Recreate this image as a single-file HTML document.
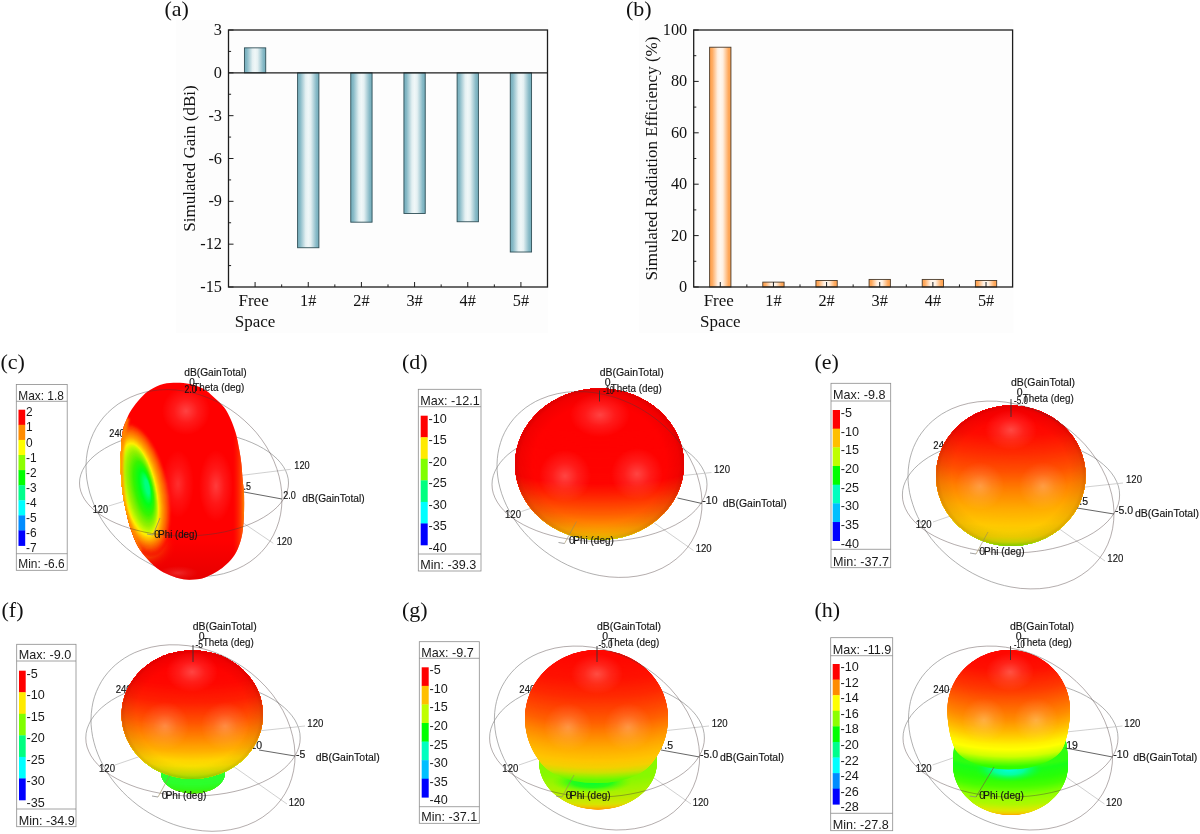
<!DOCTYPE html>
<html lang="en"><head><meta charset="utf-8"><title>Simulated gain, radiation efficiency and 3D radiation patterns</title>
<style>html,body{margin:0;padding:0;background:#fff}body{width:1200px;height:834px;overflow:hidden}svg{display:block}</style>
</head><body>
<svg width="1200" height="834" viewBox="0 0 1200 834">
<defs>
<linearGradient id="gTeal" x1="0" x2="1" y1="0" y2="0"><stop offset="0" stop-color="#74adbb"/><stop offset="0.12" stop-color="#86b9c6"/><stop offset="0.38" stop-color="#e4f0f2"/><stop offset="0.5" stop-color="#f0f7f8"/><stop offset="0.62" stop-color="#e4f0f2"/><stop offset="0.88" stop-color="#86b9c6"/><stop offset="1" stop-color="#74adbb"/></linearGradient>
<linearGradient id="gOr" x1="0" x2="1" y1="0" y2="0"><stop offset="0" stop-color="#ffa04c"/><stop offset="0.12" stop-color="#ffaa5e"/><stop offset="0.38" stop-color="#fff0e2"/><stop offset="0.5" stop-color="#fff8f0"/><stop offset="0.62" stop-color="#fff0e2"/><stop offset="0.88" stop-color="#ffaa5e"/><stop offset="1" stop-color="#ffa04c"/></linearGradient>
<radialGradient id="rim"><stop offset="0.78" stop-color="#400" stop-opacity="0"/><stop offset="0.93" stop-color="#400" stop-opacity="0.07"/><stop offset="1" stop-color="#400" stop-opacity="0.2"/></radialGradient><radialGradient id="hl"><stop offset="0" stop-color="#fff" stop-opacity="0.26"/><stop offset="0.5" stop-color="#fff" stop-opacity="0.1"/><stop offset="1" stop-color="#fff" stop-opacity="0"/></radialGradient><clipPath id="cd"><ellipse cx="599.5" cy="464.3" rx="84.5" ry="75.7"/></clipPath><clipPath id="ce"><ellipse cx="1010.8" cy="475.8" rx="74.8" ry="70.2"/></clipPath><clipPath id="cf"><ellipse cx="192.3" cy="714.7" rx="70.7" ry="64.3"/></clipPath><clipPath id="cfl"><ellipse cx="193" cy="773" rx="32" ry="20.4"/></clipPath><clipPath id="cg"><ellipse cx="596.5" cy="718" rx="71.5" ry="68"/><ellipse cx="598" cy="762" rx="59" ry="47.5"/></clipPath><radialGradient id="gb"><stop offset="0" stop-color="#00ff38"/><stop offset="0.5" stop-color="#10ff20" stop-opacity="0.85"/><stop offset="1" stop-color="#58ff00" stop-opacity="0"/></radialGradient><clipPath id="cgu"><ellipse cx="596.5" cy="754.2" rx="57.8" ry="28.9"/><ellipse cx="596.5" cy="753.2" rx="58.6" ry="29.3"/><ellipse cx="596.5" cy="752.2" rx="59.4" ry="29.7"/><ellipse cx="596.5" cy="751.2" rx="60.2" ry="30.1"/><ellipse cx="596.5" cy="750.2" rx="60.9" ry="30.5"/><ellipse cx="596.5" cy="749.2" rx="61.6" ry="30.8"/><ellipse cx="596.5" cy="748.2" rx="62.3" ry="31.1"/><ellipse cx="596.5" cy="747.2" rx="62.9" ry="31.5"/><ellipse cx="596.5" cy="746.2" rx="63.5" ry="31.8"/><ellipse cx="596.5" cy="745.2" rx="64.1" ry="32.1"/><ellipse cx="596.5" cy="744.2" rx="64.7" ry="32.3"/><ellipse cx="596.5" cy="743.2" rx="65.2" ry="32.6"/><ellipse cx="596.5" cy="742.2" rx="65.7" ry="32.9"/><ellipse cx="596.5" cy="741.2" rx="66.2" ry="33.1"/><ellipse cx="596.5" cy="740.2" rx="66.7" ry="33.3"/><ellipse cx="596.5" cy="739.2" rx="67.1" ry="33.6"/><ellipse cx="596.5" cy="738.2" rx="67.5" ry="33.8"/><ellipse cx="596.5" cy="737.2" rx="67.9" ry="34"/><ellipse cx="596.5" cy="736.2" rx="68.3" ry="34.1"/><ellipse cx="596.5" cy="735.2" rx="68.6" ry="34.3"/><ellipse cx="596.5" cy="734.2" rx="69" ry="34.5"/><ellipse cx="596.5" cy="733.2" rx="69.3" ry="34.6"/><ellipse cx="596.5" cy="732.2" rx="69.6" ry="34.8"/><ellipse cx="596.5" cy="731.2" rx="69.8" ry="34.9"/><ellipse cx="596.5" cy="730.2" rx="70.1" ry="35"/><ellipse cx="596.5" cy="729.2" rx="70.3" ry="35.2"/><ellipse cx="596.5" cy="728.2" rx="70.5" ry="35.3"/><ellipse cx="596.5" cy="727.2" rx="70.7" ry="35.3"/><ellipse cx="596.5" cy="726.2" rx="70.9" ry="35.4"/><ellipse cx="596.5" cy="725.2" rx="71" ry="35.5"/><ellipse cx="596.5" cy="724.2" rx="71.1" ry="35.6"/><ellipse cx="596.5" cy="723.2" rx="71.2" ry="35.6"/><ellipse cx="596.5" cy="722.2" rx="71.3" ry="35.7"/><ellipse cx="596.5" cy="721.2" rx="71.4" ry="35.7"/><ellipse cx="596.5" cy="720.2" rx="71.5" ry="35.7"/><ellipse cx="596.5" cy="719.2" rx="71.5" ry="35.7"/><ellipse cx="596.5" cy="718.2" rx="71.5" ry="35.7"/><ellipse cx="596.5" cy="717.2" rx="71.5" ry="35.7"/><ellipse cx="596.5" cy="716.2" rx="71.5" ry="35.7"/><ellipse cx="596.5" cy="715.2" rx="71.4" ry="35.7"/><ellipse cx="596.5" cy="714.2" rx="71.3" ry="35.7"/><ellipse cx="596.5" cy="713.2" rx="71.3" ry="35.6"/><ellipse cx="596.5" cy="712.2" rx="71.1" ry="35.6"/><ellipse cx="596.5" cy="711.2" rx="71" ry="35.5"/><ellipse cx="596.5" cy="710.2" rx="70.8" ry="35.4"/><ellipse cx="596.5" cy="709.2" rx="70.7" ry="35.3"/><ellipse cx="596.5" cy="708.2" rx="70.5" ry="35.2"/><ellipse cx="596.5" cy="707.2" rx="70.2" ry="35.1"/><ellipse cx="596.5" cy="706.2" rx="70" ry="35"/><ellipse cx="596.5" cy="705.2" rx="69.7" ry="34.9"/><ellipse cx="596.5" cy="704.2" rx="69.4" ry="34.7"/><ellipse cx="596.5" cy="703.2" rx="69.1" ry="34.6"/><ellipse cx="596.5" cy="702.2" rx="68.8" ry="34.4"/><ellipse cx="596.5" cy="701.2" rx="68.4" ry="34.2"/><ellipse cx="596.5" cy="700.2" rx="68" ry="34"/><ellipse cx="596.5" cy="699.2" rx="67.6" ry="33.8"/><ellipse cx="596.5" cy="698.2" rx="67.2" ry="33.6"/><ellipse cx="596.5" cy="697.2" rx="66.7" ry="33.4"/><ellipse cx="596.5" cy="696.2" rx="66.2" ry="33.1"/><ellipse cx="596.5" cy="695.2" rx="65.7" ry="32.8"/><ellipse cx="596.5" cy="694.2" rx="65.2" ry="32.6"/><ellipse cx="596.5" cy="693.2" rx="64.6" ry="32.3"/><ellipse cx="596.5" cy="692.2" rx="64" ry="32"/><ellipse cx="596.5" cy="691.2" rx="63.3" ry="31.7"/><ellipse cx="596.5" cy="690.2" rx="62.7" ry="31.3"/><ellipse cx="596.5" cy="689.2" rx="62" ry="31"/><ellipse cx="596.5" cy="688.2" rx="61.3" ry="30.6"/><ellipse cx="596.5" cy="687.2" rx="60.5" ry="30.2"/><ellipse cx="596.5" cy="686.2" rx="59.7" ry="29.9"/><ellipse cx="596.5" cy="685.2" rx="58.9" ry="29.4"/><ellipse cx="596.5" cy="684.2" rx="58" ry="29"/><ellipse cx="596.5" cy="683.2" rx="57.1" ry="28.5"/><ellipse cx="596.5" cy="682.2" rx="56.1" ry="28.1"/><ellipse cx="596.5" cy="681.2" rx="55.1" ry="27.6"/><ellipse cx="596.5" cy="680.2" rx="54.1" ry="27"/><ellipse cx="596.5" cy="679.2" rx="53" ry="26.5"/><ellipse cx="596.5" cy="678.2" rx="51.8" ry="25.9"/><ellipse cx="596.5" cy="677.2" rx="50.6" ry="25.3"/><ellipse cx="596.5" cy="676.2" rx="49.4" ry="24.7"/><ellipse cx="596.5" cy="675.2" rx="48" ry="24"/><ellipse cx="596.5" cy="674.2" rx="46.6" ry="23.3"/><ellipse cx="596.5" cy="673.2" rx="45.2" ry="22.6"/><ellipse cx="596.5" cy="672.2" rx="43.6" ry="21.8"/><ellipse cx="596.5" cy="671.2" rx="42" ry="21"/><ellipse cx="596.5" cy="670.2" rx="40.2" ry="20.1"/><ellipse cx="596.5" cy="669.2" rx="38.3" ry="19.2"/><ellipse cx="596.5" cy="668.2" rx="36.3" ry="18.1"/><ellipse cx="596.5" cy="667.2" rx="34.1" ry="17.1"/><ellipse cx="596.5" cy="666.2" rx="31.7" ry="15.9"/><ellipse cx="596.5" cy="665.2" rx="29.1" ry="14.5"/><ellipse cx="596.5" cy="664.2" rx="26.1" ry="13.1"/><ellipse cx="596.5" cy="663.2" rx="22.7" ry="11.4"/><ellipse cx="596.5" cy="662.2" rx="18.6" ry="9.3"/><ellipse cx="596.5" cy="661.2" rx="13.2" ry="6.6"/></clipPath><clipPath id="cgl"><ellipse cx="598" cy="798.2" rx="13.6" ry="6.8"/><ellipse cx="598" cy="797.2" rx="19.1" ry="9.5"/><ellipse cx="598" cy="796.2" rx="23.2" ry="11.6"/><ellipse cx="598" cy="795.2" rx="26.6" ry="13.3"/><ellipse cx="598" cy="794.2" rx="29.5" ry="14.8"/><ellipse cx="598" cy="793.2" rx="32.1" ry="16.1"/><ellipse cx="598" cy="792.2" rx="34.4" ry="17.2"/><ellipse cx="598" cy="791.2" rx="36.6" ry="18.3"/><ellipse cx="598" cy="790.2" rx="38.5" ry="19.2"/><ellipse cx="598" cy="789.2" rx="40.2" ry="20.1"/><ellipse cx="598" cy="788.2" rx="41.9" ry="20.9"/><ellipse cx="598" cy="787.2" rx="43.4" ry="21.7"/><ellipse cx="598" cy="786.2" rx="44.8" ry="22.4"/><ellipse cx="598" cy="785.2" rx="46.1" ry="23.1"/><ellipse cx="598" cy="784.2" rx="47.3" ry="23.7"/><ellipse cx="598" cy="783.2" rx="48.5" ry="24.2"/><ellipse cx="598" cy="782.2" rx="49.5" ry="24.8"/><ellipse cx="598" cy="781.2" rx="50.5" ry="25.3"/><ellipse cx="598" cy="780.2" rx="51.5" ry="25.7"/><ellipse cx="598" cy="779.2" rx="52.3" ry="26.2"/><ellipse cx="598" cy="778.2" rx="53.1" ry="26.6"/><ellipse cx="598" cy="777.2" rx="53.8" ry="26.9"/><ellipse cx="598" cy="776.2" rx="54.5" ry="27.3"/><ellipse cx="598" cy="775.2" rx="55.2" ry="27.6"/><ellipse cx="598" cy="774.2" rx="55.7" ry="27.9"/><ellipse cx="598" cy="773.2" rx="56.3" ry="28.1"/><ellipse cx="598" cy="772.2" rx="56.7" ry="28.4"/><ellipse cx="598" cy="771.2" rx="57.2" ry="28.6"/><ellipse cx="598" cy="770.2" rx="57.5" ry="28.8"/><ellipse cx="598" cy="769.2" rx="57.9" ry="28.9"/><ellipse cx="598" cy="768.2" rx="58.2" ry="29.1"/><ellipse cx="598" cy="767.2" rx="58.4" ry="29.2"/><ellipse cx="598" cy="766.2" rx="58.6" ry="29.3"/><ellipse cx="598" cy="765.2" rx="58.8" ry="29.4"/><ellipse cx="598" cy="764.2" rx="58.9" ry="29.4"/><ellipse cx="598" cy="763.2" rx="59" ry="29.5"/><ellipse cx="598" cy="762.2" rx="59" ry="29.5"/><ellipse cx="598" cy="761.2" rx="59" ry="29.5"/><ellipse cx="598" cy="760.2" rx="58.9" ry="29.5"/><ellipse cx="598" cy="759.2" rx="58.8" ry="29.4"/><ellipse cx="598" cy="758.2" rx="58.7" ry="29.3"/><ellipse cx="598" cy="757.2" rx="58.5" ry="29.3"/><ellipse cx="598" cy="756.2" rx="58.3" ry="29.1"/><ellipse cx="598" cy="755.2" rx="58" ry="29"/></clipPath><clipPath id="ch"><ellipse cx="1008.7" cy="710" rx="61.3" ry="60"/><ellipse cx="1010.5" cy="765" rx="57.5" ry="50"/></clipPath><radialGradient id="cy"><stop offset="0" stop-color="#00ffe8"/><stop offset="0.45" stop-color="#00ffc0" stop-opacity="0.8"/><stop offset="1" stop-color="#00ff40" stop-opacity="0"/></radialGradient><clipPath id="chu"><ellipse cx="1008.7" cy="741.7" rx="55.6" ry="27.8"/><ellipse cx="1008.7" cy="740.7" rx="56" ry="28"/><ellipse cx="1008.7" cy="739.7" rx="56.3" ry="28.2"/><ellipse cx="1008.7" cy="738.7" rx="56.7" ry="28.3"/><ellipse cx="1008.7" cy="737.7" rx="57" ry="28.5"/><ellipse cx="1008.7" cy="736.7" rx="57.3" ry="28.7"/><ellipse cx="1008.7" cy="735.7" rx="57.6" ry="28.8"/><ellipse cx="1008.7" cy="734.7" rx="57.9" ry="29"/><ellipse cx="1008.7" cy="733.7" rx="58.2" ry="29.1"/><ellipse cx="1008.7" cy="732.7" rx="58.5" ry="29.2"/><ellipse cx="1008.7" cy="731.7" rx="58.7" ry="29.4"/><ellipse cx="1008.7" cy="730.7" rx="59" ry="29.5"/><ellipse cx="1008.7" cy="729.7" rx="59.2" ry="29.6"/><ellipse cx="1008.7" cy="728.7" rx="59.4" ry="29.7"/><ellipse cx="1008.7" cy="727.6" rx="59.6" ry="29.8"/><ellipse cx="1008.7" cy="726.6" rx="59.8" ry="29.9"/><ellipse cx="1008.7" cy="725.6" rx="60" ry="30"/><ellipse cx="1008.7" cy="724.6" rx="60.1" ry="30.1"/><ellipse cx="1008.7" cy="723.6" rx="60.3" ry="30.1"/><ellipse cx="1008.7" cy="722.6" rx="60.4" ry="30.2"/><ellipse cx="1008.7" cy="721.6" rx="60.6" ry="30.3"/><ellipse cx="1008.7" cy="720.6" rx="60.7" ry="30.3"/><ellipse cx="1008.7" cy="719.6" rx="60.8" ry="30.4"/><ellipse cx="1008.7" cy="718.6" rx="60.9" ry="30.4"/><ellipse cx="1008.7" cy="717.6" rx="61" ry="30.5"/><ellipse cx="1008.7" cy="716.6" rx="61.1" ry="30.5"/><ellipse cx="1008.7" cy="715.6" rx="61.1" ry="30.6"/><ellipse cx="1008.7" cy="714.6" rx="61.2" ry="30.6"/><ellipse cx="1008.7" cy="713.6" rx="61.2" ry="30.6"/><ellipse cx="1008.7" cy="712.6" rx="61.3" ry="30.6"/><ellipse cx="1008.7" cy="711.6" rx="61.3" ry="30.6"/><ellipse cx="1008.7" cy="710.6" rx="61.3" ry="30.6"/><ellipse cx="1008.7" cy="709.6" rx="61.3" ry="30.6"/><ellipse cx="1008.7" cy="708.6" rx="61.3" ry="30.6"/><ellipse cx="1008.7" cy="707.6" rx="61.2" ry="30.6"/><ellipse cx="1008.7" cy="706.6" rx="61.2" ry="30.6"/><ellipse cx="1008.7" cy="705.6" rx="61.1" ry="30.5"/><ellipse cx="1008.7" cy="704.6" rx="61" ry="30.5"/><ellipse cx="1008.7" cy="703.6" rx="60.8" ry="30.4"/><ellipse cx="1008.7" cy="702.6" rx="60.7" ry="30.3"/><ellipse cx="1008.7" cy="701.6" rx="60.5" ry="30.2"/><ellipse cx="1008.7" cy="700.6" rx="60.3" ry="30.1"/><ellipse cx="1008.7" cy="699.6" rx="60" ry="30"/><ellipse cx="1008.7" cy="698.6" rx="59.8" ry="29.9"/><ellipse cx="1008.7" cy="697.5" rx="59.5" ry="29.7"/><ellipse cx="1008.7" cy="696.5" rx="59.2" ry="29.6"/><ellipse cx="1008.7" cy="695.5" rx="58.8" ry="29.4"/><ellipse cx="1008.7" cy="694.5" rx="58.5" ry="29.2"/><ellipse cx="1008.7" cy="693.5" rx="58.1" ry="29"/><ellipse cx="1008.7" cy="692.5" rx="57.7" ry="28.8"/><ellipse cx="1008.7" cy="691.5" rx="57.2" ry="28.6"/><ellipse cx="1008.7" cy="690.5" rx="56.8" ry="28.4"/><ellipse cx="1008.7" cy="689.5" rx="56.3" ry="28.1"/><ellipse cx="1008.7" cy="688.5" rx="55.7" ry="27.9"/><ellipse cx="1008.7" cy="687.5" rx="55.2" ry="27.6"/><ellipse cx="1008.7" cy="686.5" rx="54.6" ry="27.3"/><ellipse cx="1008.7" cy="685.5" rx="53.9" ry="27"/><ellipse cx="1008.7" cy="684.5" rx="53.3" ry="26.6"/><ellipse cx="1008.7" cy="683.5" rx="52.6" ry="26.3"/><ellipse cx="1008.7" cy="682.5" rx="51.9" ry="25.9"/><ellipse cx="1008.7" cy="681.5" rx="51.1" ry="25.5"/><ellipse cx="1008.7" cy="680.5" rx="50.3" ry="25.1"/><ellipse cx="1008.7" cy="679.5" rx="49.4" ry="24.7"/><ellipse cx="1008.7" cy="678.5" rx="48.5" ry="24.3"/><ellipse cx="1008.7" cy="677.5" rx="47.6" ry="23.8"/><ellipse cx="1008.7" cy="676.5" rx="46.6" ry="23.3"/><ellipse cx="1008.7" cy="675.5" rx="45.5" ry="22.8"/><ellipse cx="1008.7" cy="674.5" rx="44.4" ry="22.2"/><ellipse cx="1008.7" cy="673.5" rx="43.3" ry="21.6"/><ellipse cx="1008.7" cy="672.5" rx="42" ry="21"/><ellipse cx="1008.7" cy="671.5" rx="40.7" ry="20.4"/><ellipse cx="1008.7" cy="670.5" rx="39.4" ry="19.7"/><ellipse cx="1008.7" cy="669.5" rx="37.9" ry="18.9"/><ellipse cx="1008.7" cy="668.5" rx="36.3" ry="18.2"/><ellipse cx="1008.7" cy="667.4" rx="34.6" ry="17.3"/><ellipse cx="1008.7" cy="666.4" rx="32.8" ry="16.4"/><ellipse cx="1008.7" cy="665.4" rx="30.9" ry="15.4"/><ellipse cx="1008.7" cy="664.4" rx="28.7" ry="14.4"/><ellipse cx="1008.7" cy="663.4" rx="26.4" ry="13.2"/><ellipse cx="1008.7" cy="662.4" rx="23.7" ry="11.9"/><ellipse cx="1008.7" cy="661.4" rx="20.6" ry="10.3"/><ellipse cx="1008.7" cy="660.4" rx="16.9" ry="8.5"/><ellipse cx="1008.7" cy="659.4" rx="12" ry="6"/></clipPath><clipPath id="chl"><ellipse cx="1010.5" cy="804.9" rx="12.7" ry="6.3"/><ellipse cx="1010.5" cy="803.9" rx="17.8" ry="8.9"/><ellipse cx="1010.5" cy="802.9" rx="21.6" ry="10.8"/><ellipse cx="1010.5" cy="801.9" rx="24.8" ry="12.4"/><ellipse cx="1010.5" cy="800.9" rx="27.6" ry="13.8"/><ellipse cx="1010.5" cy="799.9" rx="30" ry="15"/><ellipse cx="1010.5" cy="798.9" rx="32.2" ry="16.1"/><ellipse cx="1010.5" cy="797.9" rx="34.2" ry="17.1"/><ellipse cx="1010.5" cy="796.9" rx="36" ry="18"/><ellipse cx="1010.5" cy="795.9" rx="37.7" ry="18.9"/><ellipse cx="1010.5" cy="794.9" rx="39.3" ry="19.6"/><ellipse cx="1010.5" cy="793.9" rx="40.7" ry="20.4"/><ellipse cx="1010.5" cy="792.9" rx="42.1" ry="21"/><ellipse cx="1010.5" cy="791.9" rx="43.4" ry="21.7"/><ellipse cx="1010.5" cy="790.9" rx="44.6" ry="22.3"/><ellipse cx="1010.5" cy="789.9" rx="45.7" ry="22.8"/><ellipse cx="1010.5" cy="788.9" rx="46.7" ry="23.4"/><ellipse cx="1010.5" cy="787.8" rx="47.7" ry="23.8"/><ellipse cx="1010.5" cy="786.8" rx="48.6" ry="24.3"/><ellipse cx="1010.5" cy="785.8" rx="49.5" ry="24.7"/><ellipse cx="1010.5" cy="784.8" rx="50.3" ry="25.1"/><ellipse cx="1010.5" cy="783.8" rx="51" ry="25.5"/><ellipse cx="1010.5" cy="782.8" rx="51.7" ry="25.9"/><ellipse cx="1010.5" cy="781.8" rx="52.4" ry="26.2"/><ellipse cx="1010.5" cy="780.8" rx="53" ry="26.5"/><ellipse cx="1010.5" cy="779.8" rx="53.6" ry="26.8"/><ellipse cx="1010.5" cy="778.8" rx="54.1" ry="27.1"/><ellipse cx="1010.5" cy="777.8" rx="54.6" ry="27.3"/><ellipse cx="1010.5" cy="776.8" rx="55.1" ry="27.5"/><ellipse cx="1010.5" cy="775.8" rx="55.5" ry="27.7"/><ellipse cx="1010.5" cy="774.8" rx="55.8" ry="27.9"/><ellipse cx="1010.5" cy="773.8" rx="56.2" ry="28.1"/><ellipse cx="1010.5" cy="772.8" rx="56.4" ry="28.2"/><ellipse cx="1010.5" cy="771.8" rx="56.7" ry="28.4"/><ellipse cx="1010.5" cy="770.8" rx="56.9" ry="28.5"/><ellipse cx="1010.5" cy="769.8" rx="57.1" ry="28.6"/><ellipse cx="1010.5" cy="768.8" rx="57.3" ry="28.6"/><ellipse cx="1010.5" cy="767.8" rx="57.4" ry="28.7"/><ellipse cx="1010.5" cy="766.8" rx="57.4" ry="28.7"/><ellipse cx="1010.5" cy="765.8" rx="57.5" ry="28.7"/><ellipse cx="1010.5" cy="764.8" rx="57.5" ry="28.7"/><ellipse cx="1010.5" cy="763.8" rx="57.5" ry="28.7"/><ellipse cx="1010.5" cy="762.8" rx="57.5" ry="28.7"/><ellipse cx="1010.5" cy="761.8" rx="57.5" ry="28.7"/><ellipse cx="1010.5" cy="760.8" rx="57.4" ry="28.7"/><ellipse cx="1010.5" cy="759.8" rx="57.4" ry="28.7"/><ellipse cx="1010.5" cy="758.8" rx="57.4" ry="28.7"/><ellipse cx="1010.5" cy="757.7" rx="57.3" ry="28.6"/><ellipse cx="1010.5" cy="756.7" rx="57.2" ry="28.6"/><ellipse cx="1010.5" cy="755.7" rx="57.2" ry="28.6"/><ellipse cx="1010.5" cy="754.7" rx="57.1" ry="28.5"/><ellipse cx="1010.5" cy="753.7" rx="57" ry="28.5"/><ellipse cx="1010.5" cy="752.7" rx="56.9" ry="28.5"/><ellipse cx="1010.5" cy="751.7" rx="56.8" ry="28.4"/><ellipse cx="1010.5" cy="750.7" rx="56.7" ry="28.4"/><ellipse cx="1010.5" cy="749.7" rx="56.6" ry="28.3"/><ellipse cx="1010.5" cy="748.7" rx="56.5" ry="28.2"/><ellipse cx="1010.5" cy="747.7" rx="56.3" ry="28.2"/><ellipse cx="1010.5" cy="746.7" rx="56.2" ry="28.1"/><ellipse cx="1010.5" cy="745.7" rx="56.1" ry="28"/><ellipse cx="1010.5" cy="744.7" rx="55.9" ry="27.9"/><ellipse cx="1010.5" cy="743.7" rx="55.7" ry="27.9"/><ellipse cx="1010.5" cy="742.7" rx="55.6" ry="27.8"/></clipPath><clipPath id="cc"><path d="M176.7 382.7C181.1 382.7 185.6 383 190 384C194.4 385 199.4 386.6 203.3 388.7C207.2 390.8 209.9 393.6 213.3 396.7C216.8 399.8 221.1 403.5 224 407.3C226.9 411.1 228.7 414.9 230.7 419.3C232.7 423.8 234.6 428.9 236 434C237.4 439.1 238.4 445.1 239.3 450C240.2 454.9 240.7 458.3 241.3 463.3C241.9 468.3 242.2 475 242.7 480C243.1 485 243.8 487.8 244 493.3C244.2 498.9 244.2 507.1 244 513.3C243.8 519.5 243.4 525.8 242.7 530.7C242 535.6 241.3 538.7 240 542.7C238.7 546.7 236.9 551.2 234.7 554.7C232.5 558.2 229.6 561.2 226.7 564C223.8 566.8 220.6 569.2 217.3 571.3C214 573.4 210.1 575.4 206.7 576.7C203.3 578 200.6 578.9 196.7 579.3C192.8 579.7 187.8 580 183.3 579.3C178.9 578.6 174.4 577.2 170 575.3C165.6 573.4 160.9 571.2 156.7 568C152.5 564.8 148 560 144.7 556C141.4 552 139.1 548.9 136.7 544C134.2 539.1 131.8 532.2 130 526.7C128.2 521.2 127.1 515.6 126 510.7C124.9 505.8 124.1 502.4 123.3 497.3C122.5 492.2 121.7 485.7 121.3 480C120.9 474.3 120.7 469.2 120.7 463.3C120.7 457.4 120.9 450.5 121.3 444.7C121.7 438.9 122.5 432.7 123.3 428.7C124.1 424.7 124.7 423.8 126 420.7C127.3 417.6 128.9 413.8 131.3 410C133.8 406.2 137.6 401.3 140.7 398C143.8 394.7 146.2 392.3 150 390C153.8 387.7 158.9 385.2 163.3 384C167.8 382.8 172.2 382.7 176.7 382.7Z"/></clipPath><linearGradient id="tr" gradientUnits="userSpaceOnUse" x1="233" y1="0" x2="244.5" y2="0"><stop offset="0" stop-color="#ff2000" stop-opacity="0"/><stop offset="0.6" stop-color="#ff4800" stop-opacity="0.7"/><stop offset="1" stop-color="#ff8a00"/></linearGradient><filter id="bl" x="-50%" y="-10%" width="200%" height="120%"><feGaussianBlur stdDeviation="1.3"/></filter><radialGradient id="tq"><stop offset="0" stop-color="#ffb000" stop-opacity="0.95"/><stop offset="0.5" stop-color="#ff7000" stop-opacity="0.6"/><stop offset="1" stop-color="#ff0000" stop-opacity="0"/></radialGradient><linearGradient id="tb" gradientUnits="userSpaceOnUse" x1="0" y1="540" x2="0" y2="580"><stop offset="0" stop-color="#d00000" stop-opacity="0"/><stop offset="1" stop-color="#d00000" stop-opacity="0.55"/></linearGradient>
</defs>
<rect width="1200" height="834" fill="#fff"/>
<rect x="176" y="20" width="372" height="313" fill="#fdfdfd"/><rect x="639" y="20" width="374.5" height="313" fill="#fdfdfd"/>
<g font-family='"Liberation Serif", serif' font-size="22" fill="#111">
<text x="164.5" y="16">(a)</text>
<text x="626" y="16">(b)</text>
<text x="0.4" y="368.7">(c)</text>
<text x="402" y="368.7">(d)</text>
<text x="814.5" y="368.5">(e)</text>
<text x="1.5" y="617">(f)</text>
<text x="402" y="617">(g)</text>
<text x="814.5" y="617">(h)</text>
</g>
<g font-family='"Liberation Serif", serif' font-size="16.3" fill="#111"><rect x="244.43" y="47.85" width="21.3" height="24.99" fill="url(#gTeal)" stroke="#2f4f57" stroke-width="0.9"/><rect x="297.6" y="72.83" width="21.3" height="174.9" fill="url(#gTeal)" stroke="#2f4f57" stroke-width="0.9"/><rect x="350.77" y="72.83" width="21.3" height="149.35" fill="url(#gTeal)" stroke="#2f4f57" stroke-width="0.9"/><rect x="403.93" y="72.83" width="21.3" height="140.64" fill="url(#gTeal)" stroke="#2f4f57" stroke-width="0.9"/><rect x="457.1" y="72.83" width="21.3" height="148.92" fill="url(#gTeal)" stroke="#2f4f57" stroke-width="0.9"/><rect x="510.27" y="72.83" width="21.3" height="179.19" fill="url(#gTeal)" stroke="#2f4f57" stroke-width="0.9"/><rect x="228.5" y="30" width="319" height="257" fill="none" stroke="#1e1e1e" stroke-width="1.3"/><line x1="228.5" y1="72.83" x2="547.5" y2="72.83" stroke="#1e1e1e" stroke-width="1.3"/><path d="M228.5 30h5M228.5 72.83h5M228.5 115.67h5M228.5 158.5h5M228.5 201.33h5M228.5 244.17h5M228.5 287h5M228.5 51.42h2.6M228.5 94.25h2.6M228.5 137.08h2.6M228.5 179.92h2.6M228.5 222.75h2.6M228.5 265.58h2.6M255.08 287v-5M281.67 287v-2.6M308.25 287v-5M334.83 287v-2.6M361.42 287v-5M388 287v-2.6M414.58 287v-5M441.17 287v-2.6M467.75 287v-5M494.33 287v-2.6M520.92 287v-5" stroke="#1e1e1e" stroke-width="1" fill="none"/><text x="222" y="35" text-anchor="end">3</text><text x="222" y="77.83" text-anchor="end">0</text><text x="222" y="120.67" text-anchor="end">-3</text><text x="222" y="163.5" text-anchor="end">-6</text><text x="222" y="206.33" text-anchor="end">-9</text><text x="222" y="249.17" text-anchor="end">-12</text><text x="222" y="292" text-anchor="end">-15</text><text x="253.58" y="306" text-anchor="middle" font-size="17">Free</text><text x="308.25" y="306" text-anchor="middle">1#</text><text x="361.42" y="306" text-anchor="middle">2#</text><text x="414.58" y="306" text-anchor="middle">3#</text><text x="467.75" y="306" text-anchor="middle">4#</text><text x="520.92" y="306" text-anchor="middle">5#</text><text x="255.08" y="326.5" text-anchor="middle" font-size="17">Space</text><text transform="translate(194.5 158.5) rotate(-90)" text-anchor="middle" font-size="17">Simulated Gain (dBi)</text></g>
<g font-family='"Liberation Serif", serif' font-size="16.3" fill="#111"><rect x="709.63" y="47.22" width="21.3" height="239.78" fill="url(#gOr)" stroke="#4a3a2a" stroke-width="0.9"/><rect x="762.78" y="282.12" width="21.3" height="4.88" fill="url(#gOr)" stroke="#4a3a2a" stroke-width="0.9"/><rect x="815.93" y="280.45" width="21.3" height="6.55" fill="url(#gOr)" stroke="#4a3a2a" stroke-width="0.9"/><rect x="869.08" y="279.42" width="21.3" height="7.58" fill="url(#gOr)" stroke="#4a3a2a" stroke-width="0.9"/><rect x="922.23" y="279.42" width="21.3" height="7.58" fill="url(#gOr)" stroke="#4a3a2a" stroke-width="0.9"/><rect x="975.38" y="280.45" width="21.3" height="6.55" fill="url(#gOr)" stroke="#4a3a2a" stroke-width="0.9"/><rect x="693.7" y="30" width="318.9" height="257" fill="none" stroke="#1e1e1e" stroke-width="1.3"/><path d="M693.7 30h5M693.7 81.4h5M693.7 132.8h5M693.7 184.2h5M693.7 235.6h5M693.7 287h5M693.7 55.7h2.6M693.7 107.1h2.6M693.7 158.5h2.6M693.7 209.9h2.6M693.7 261.3h2.6M720.28 287v-5M746.85 287v-2.6M773.43 287v-5M800 287v-2.6M826.58 287v-5M853.15 287v-2.6M879.73 287v-5M906.3 287v-2.6M932.88 287v-5M959.45 287v-2.6M986.03 287v-5" stroke="#1e1e1e" stroke-width="1" fill="none"/><text x="687.2" y="35" text-anchor="end">100</text><text x="687.2" y="86.4" text-anchor="end">80</text><text x="687.2" y="137.8" text-anchor="end">60</text><text x="687.2" y="189.2" text-anchor="end">40</text><text x="687.2" y="240.6" text-anchor="end">20</text><text x="687.2" y="292" text-anchor="end">0</text><text x="718.78" y="306" text-anchor="middle" font-size="17">Free</text><text x="773.43" y="306" text-anchor="middle">1#</text><text x="826.58" y="306" text-anchor="middle">2#</text><text x="879.73" y="306" text-anchor="middle">3#</text><text x="932.88" y="306" text-anchor="middle">4#</text><text x="986.03" y="306" text-anchor="middle">5#</text><text x="720.28" y="326.5" text-anchor="middle" font-size="17">Space</text><text transform="translate(656.5 158.5) rotate(-90)" text-anchor="middle" font-size="17">Simulated Radiation Efficiency (%)</text></g>
<g font-family='"Liberation Sans", sans-serif' font-size="11.9" fill="#1a1a1a"><rect x="16.3" y="384.5" width="50.9" height="185.8" fill="#fff" stroke="#8c8c8c" stroke-width="0.8"/><path d="M16.3 401.3H67.2M16.3 553.7H67.2" stroke="#8c8c8c" stroke-width="0.8" fill="none"/><rect x="18.5" y="409.7" width="6.7" height="15.4" fill="#ff0000"/><rect x="18.5" y="424.8" width="6.7" height="15.4" fill="#ff8c00"/><rect x="18.5" y="439.9" width="6.7" height="15.4" fill="#ffff00"/><rect x="18.5" y="455" width="6.7" height="15.4" fill="#8cff00"/><rect x="18.5" y="470.1" width="6.7" height="15.4" fill="#00ff00"/><rect x="18.5" y="485.2" width="6.7" height="15.4" fill="#00ff8c"/><rect x="18.5" y="500.3" width="6.7" height="15.4" fill="#00ffff"/><rect x="18.5" y="515.4" width="6.7" height="15.4" fill="#008cff"/><rect x="18.5" y="530.5" width="6.7" height="15.4" fill="#0000ff"/><text x="26" y="416.3">2</text><text x="26" y="431.4">1</text><text x="26" y="446.5">0</text><text x="26" y="461.6">-1</text><text x="26" y="476.7">-2</text><text x="26" y="491.8">-3</text><text x="26" y="506.9">-4</text><text x="26" y="522">-5</text><text x="26" y="537.1">-6</text><text x="26" y="552.2">-7</text><text x="18.3" y="399.7">Max: 1.8</text><text x="18.3" y="568.2">Min: -6.6</text></g>
<g font-family='"Liberation Sans", sans-serif' font-size="12.6" fill="#1a1a1a"><rect x="418.3" y="389.3" width="62.7" height="181.7" fill="#fff" stroke="#8c8c8c" stroke-width="0.8"/><path d="M418.3 406.7H481M418.3 554H481" stroke="#8c8c8c" stroke-width="0.8" fill="none"/><rect x="420.7" y="415.7" width="7" height="21.85" fill="#ff0000"/><rect x="420.7" y="437.25" width="7" height="21.85" fill="#ffea00"/><rect x="420.7" y="458.8" width="7" height="21.85" fill="#80ff00"/><rect x="420.7" y="480.35" width="7" height="21.85" fill="#00ff80"/><rect x="420.7" y="501.9" width="7" height="21.85" fill="#00ffff"/><rect x="420.7" y="523.45" width="7" height="21.85" fill="#0000ff"/><text x="428.5" y="422.7">-10</text><text x="428.5" y="444.25">-15</text><text x="428.5" y="465.8">-20</text><text x="428.5" y="487.35">-25</text><text x="428.5" y="508.9">-30</text><text x="428.5" y="530.45">-35</text><text x="428.5" y="552">-40</text><text x="420.3" y="405.1">Max: -12.1</text><text x="420.3" y="568.9">Min: -39.3</text></g>
<g font-family='"Liberation Sans", sans-serif' font-size="12.6" fill="#1a1a1a"><rect x="831" y="383.3" width="59.7" height="184.4" fill="#fff" stroke="#8c8c8c" stroke-width="0.8"/><path d="M831 401H890.7M831 549.3H890.7" stroke="#8c8c8c" stroke-width="0.8" fill="none"/><rect x="832.7" y="410" width="7.3" height="18.97" fill="#ff0000"/><rect x="832.7" y="428.67" width="7.3" height="18.97" fill="#ffbf00"/><rect x="832.7" y="447.34" width="7.3" height="18.97" fill="#bfff00"/><rect x="832.7" y="466.01" width="7.3" height="18.97" fill="#00ff00"/><rect x="832.7" y="484.69" width="7.3" height="18.97" fill="#00ffbf"/><rect x="832.7" y="503.36" width="7.3" height="18.97" fill="#00bfff"/><rect x="832.7" y="522.03" width="7.3" height="18.97" fill="#0000ff"/><text x="840.8" y="417">-5</text><text x="840.8" y="435.67">-10</text><text x="840.8" y="454.34">-15</text><text x="840.8" y="473.01">-20</text><text x="840.8" y="491.69">-25</text><text x="840.8" y="510.36">-30</text><text x="840.8" y="529.03">-35</text><text x="840.8" y="547.7">-40</text><text x="833" y="399.4">Max: -9.8</text><text x="833" y="565.6">Min: -37.7</text></g>
<g font-family='"Liberation Sans", sans-serif' font-size="12.6" fill="#1a1a1a"><rect x="16.7" y="644.3" width="59.3" height="182.4" fill="#fff" stroke="#8c8c8c" stroke-width="0.8"/><path d="M16.7 661H76M16.7 809H76" stroke="#8c8c8c" stroke-width="0.8" fill="none"/><rect x="19" y="670.7" width="6.7" height="21.85" fill="#ff0000"/><rect x="19" y="692.25" width="6.7" height="21.85" fill="#ffea00"/><rect x="19" y="713.8" width="6.7" height="21.85" fill="#80ff00"/><rect x="19" y="735.35" width="6.7" height="21.85" fill="#00ff80"/><rect x="19" y="756.9" width="6.7" height="21.85" fill="#00ffff"/><rect x="19" y="778.45" width="6.7" height="21.85" fill="#0000ff"/><text x="26.5" y="677.7">-5</text><text x="26.5" y="699.25">-10</text><text x="26.5" y="720.8">-15</text><text x="26.5" y="742.35">-20</text><text x="26.5" y="763.9">-25</text><text x="26.5" y="785.45">-30</text><text x="26.5" y="807">-35</text><text x="18.7" y="659.4">Max: -9.0</text><text x="18.7" y="824.6">Min: -34.9</text></g>
<g font-family='"Liberation Sans", sans-serif' font-size="12.6" fill="#1a1a1a"><rect x="419.3" y="641.7" width="60" height="181.6" fill="#fff" stroke="#8c8c8c" stroke-width="0.8"/><path d="M419.3 658.3H479.3M419.3 806.7H479.3" stroke="#8c8c8c" stroke-width="0.8" fill="none"/><rect x="421.7" y="667.3" width="7" height="18.87" fill="#ff0000"/><rect x="421.7" y="685.87" width="7" height="18.87" fill="#ffbf00"/><rect x="421.7" y="704.44" width="7" height="18.87" fill="#bfff00"/><rect x="421.7" y="723.01" width="7" height="18.87" fill="#00ff00"/><rect x="421.7" y="741.59" width="7" height="18.87" fill="#00ffbf"/><rect x="421.7" y="760.16" width="7" height="18.87" fill="#00bfff"/><rect x="421.7" y="778.73" width="7" height="18.87" fill="#0000ff"/><text x="429.5" y="674.3">-5</text><text x="429.5" y="692.87">-10</text><text x="429.5" y="711.44">-15</text><text x="429.5" y="730.01">-20</text><text x="429.5" y="748.59">-25</text><text x="429.5" y="767.16">-30</text><text x="429.5" y="785.73">-35</text><text x="429.5" y="804.3">-40</text><text x="421.3" y="656.7">Max: -9.7</text><text x="421.3" y="821.2">Min: -37.1</text></g>
<g font-family='"Liberation Sans", sans-serif' font-size="12.6" fill="#1a1a1a"><rect x="830.7" y="637.7" width="62" height="193" fill="#fff" stroke="#8c8c8c" stroke-width="0.8"/><path d="M830.7 655.7H892.7M830.7 813.3H892.7" stroke="#8c8c8c" stroke-width="0.8" fill="none"/><rect x="832.7" y="664" width="7" height="15.89" fill="#ff0000"/><rect x="832.7" y="679.59" width="7" height="15.89" fill="#ff8c00"/><rect x="832.7" y="695.18" width="7" height="15.89" fill="#ffff00"/><rect x="832.7" y="710.77" width="7" height="15.89" fill="#8cff00"/><rect x="832.7" y="726.36" width="7" height="15.89" fill="#00ff00"/><rect x="832.7" y="741.94" width="7" height="15.89" fill="#00ff8c"/><rect x="832.7" y="757.53" width="7" height="15.89" fill="#00ffff"/><rect x="832.7" y="773.12" width="7" height="15.89" fill="#008cff"/><rect x="832.7" y="788.71" width="7" height="15.89" fill="#0000ff"/><text x="840.5" y="671">-10</text><text x="840.5" y="686.59">-12</text><text x="840.5" y="702.18">-14</text><text x="840.5" y="717.77">-16</text><text x="840.5" y="733.36">-18</text><text x="840.5" y="748.94">-20</text><text x="840.5" y="764.53">-22</text><text x="840.5" y="780.12">-24</text><text x="840.5" y="795.71">-26</text><text x="840.5" y="811.3">-28</text><text x="832.7" y="654.1">Max: -11.9</text><text x="832.7" y="828.6">Min: -27.8</text></g>
<path d="M492 484.5L492.3 480L493.3 475.6L495 471.2L497.3 466.9L500.2 462.7L503.7 458.6L507.8 454.7L512.5 451L517.8 447.5L523.5 444.2L529.7 441.2L536.3 438.4L543.3 435.9L550.7 433.7L558.4 431.8L566.3 430.3L574.4 429.1L582.7 428.2L591.1 427.7L599.5 427.5L607.9 427.7L616.3 428.2L624.6 429.1L632.7 430.3L640.6 431.8L648.3 433.7L655.7 435.9L662.7 438.4L669.3 441.2L675.5 444.2L681.2 447.5L686.5 451L691.2 454.7L695.3 458.6L698.8 462.7L701.7 466.9L704 471.2L705.7 475.6L706.7 480L707 484.5M540.7 399.1L535.5 401.5L530.6 404.4L525.9 407.5L521.6 411L517.5 414.7L513.8 418.7L510.4 423L507.4 427.5L504.7 432.3L502.4 437.3L500.6 442.4L499.1 447.7L498 453.2L497.3 458.8L497 464.5L497.1 470.3L497.7 476.1L498.6 482L500 487.9L501.7 493.7L503.9 499.6L506.4 505.3L509.3 511L512.6 516.6L516.2 522.1L520.1 527.4L524.4 532.5L528.9 537.4L533.8 542.2L538.9 546.7L544.2 550.9L549.8 554.9L555.6 558.6L561.5 562L567.6 565.1L573.8 567.8L580.2 570.3L586.6 572.4L593 574.1L599.5 575.5" fill="none" stroke="#8e8e8e" stroke-width="0.7"/><line x1="619.5" y1="482.3" x2="711.5" y2="472.5" stroke="#c4c4c4" stroke-width="0.8"/><line x1="619.5" y1="498.5" x2="693.5" y2="550.5" stroke="#c4c4c4" stroke-width="0.8"/><line x1="579.5" y1="491.5" x2="521.5" y2="511.5" stroke="#c4c4c4" stroke-width="0.8"/>
<g clip-path="url(#cd)"><ellipse cx="599.5" cy="533.9" rx="97.2" ry="17.8" fill="#d0e800"/><ellipse cx="599.5" cy="533" rx="97.2" ry="17.8" fill="#d0e800"/><ellipse cx="599.5" cy="532.1" rx="97.2" ry="17.8" fill="#d0e800"/><ellipse cx="599.5" cy="531.2" rx="97.2" ry="17.8" fill="#d0e800"/><ellipse cx="599.5" cy="530.3" rx="97.2" ry="17.8" fill="#d0e800"/><ellipse cx="599.5" cy="529.4" rx="97.2" ry="17.8" fill="#d0e800"/><ellipse cx="599.5" cy="528.5" rx="97.2" ry="17.8" fill="#d0e800"/><ellipse cx="599.5" cy="527.6" rx="97.2" ry="17.8" fill="#d0e800"/><ellipse cx="599.5" cy="526.7" rx="97.2" ry="17.8" fill="#d0e800"/><ellipse cx="599.5" cy="525.8" rx="97.2" ry="17.8" fill="#d0e800"/><ellipse cx="599.5" cy="524.9" rx="97.2" ry="17.8" fill="#d0e800"/><ellipse cx="599.5" cy="524" rx="97.2" ry="17.8" fill="#d0e800"/><ellipse cx="599.5" cy="523.1" rx="97.2" ry="17.8" fill="#d2e600"/><ellipse cx="599.5" cy="522.2" rx="97.2" ry="17.8" fill="#e0dc00"/><ellipse cx="599.5" cy="521.3" rx="97.2" ry="17.8" fill="#efd100"/><ellipse cx="599.5" cy="520.4" rx="97.2" ry="17.8" fill="#f3c900"/><ellipse cx="599.5" cy="519.5" rx="97.2" ry="17.8" fill="#f6c200"/><ellipse cx="599.5" cy="518.6" rx="97.2" ry="17.8" fill="#fabb00"/><ellipse cx="599.5" cy="517.7" rx="97.2" ry="17.8" fill="#fbb600"/><ellipse cx="599.5" cy="516.8" rx="97.2" ry="17.8" fill="#fcb200"/><ellipse cx="599.5" cy="515.9" rx="97.2" ry="17.8" fill="#fdaf00"/><ellipse cx="599.5" cy="515" rx="97.2" ry="17.8" fill="#feab00"/><ellipse cx="599.5" cy="514.1" rx="97.2" ry="17.8" fill="#fea700"/><ellipse cx="599.5" cy="513.2" rx="97.2" ry="17.8" fill="#ffa400"/><ellipse cx="599.5" cy="512.3" rx="97.2" ry="17.8" fill="#ffa000"/><ellipse cx="599.5" cy="511.4" rx="97.2" ry="17.8" fill="#ff9c00"/><ellipse cx="599.5" cy="510.5" rx="97.2" ry="17.8" fill="#ff9800"/><ellipse cx="599.5" cy="509.6" rx="97.2" ry="17.8" fill="#ff9300"/><ellipse cx="599.5" cy="508.7" rx="97.2" ry="17.8" fill="#ff8f00"/><ellipse cx="599.5" cy="507.8" rx="97.2" ry="17.8" fill="#ff8b00"/><ellipse cx="599.5" cy="506.9" rx="97.2" ry="17.8" fill="#ff8700"/><ellipse cx="599.5" cy="506" rx="97.2" ry="17.8" fill="#ff8300"/><ellipse cx="599.5" cy="505.1" rx="97.2" ry="17.8" fill="#ff7f00"/><ellipse cx="599.5" cy="504.2" rx="97.2" ry="17.8" fill="#ff7c00"/><ellipse cx="599.5" cy="503.3" rx="97.2" ry="17.8" fill="#ff7800"/><ellipse cx="599.5" cy="502.4" rx="97.2" ry="17.8" fill="#ff7500"/><ellipse cx="599.5" cy="501.5" rx="97.2" ry="17.8" fill="#ff7100"/><ellipse cx="599.5" cy="500.6" rx="97.2" ry="17.8" fill="#ff6d00"/><ellipse cx="599.5" cy="499.7" rx="97.2" ry="17.8" fill="#ff6a00"/><ellipse cx="599.5" cy="498.8" rx="97.2" ry="17.8" fill="#ff6600"/><ellipse cx="599.5" cy="497.9" rx="97.2" ry="17.8" fill="#ff6300"/><ellipse cx="599.5" cy="497" rx="97.2" ry="17.8" fill="#ff5f00"/><ellipse cx="599.5" cy="496.1" rx="97.2" ry="17.8" fill="#ff5c00"/><ellipse cx="599.5" cy="495.2" rx="97.2" ry="17.8" fill="#ff5a00"/><ellipse cx="599.5" cy="494.3" rx="97.2" ry="17.8" fill="#ff5700"/><ellipse cx="599.5" cy="493.4" rx="97.2" ry="17.8" fill="#ff5400"/><ellipse cx="599.5" cy="492.5" rx="97.2" ry="17.8" fill="#ff5100"/><ellipse cx="599.5" cy="491.6" rx="97.2" ry="17.8" fill="#ff4e00"/><ellipse cx="599.5" cy="490.7" rx="97.2" ry="17.8" fill="#ff4b00"/><ellipse cx="599.5" cy="489.8" rx="97.2" ry="17.8" fill="#ff4800"/><ellipse cx="599.5" cy="488.9" rx="97.2" ry="17.8" fill="#ff4500"/><ellipse cx="599.5" cy="488" rx="97.2" ry="17.8" fill="#ff4200"/><ellipse cx="599.5" cy="487.1" rx="97.2" ry="17.8" fill="#ff4000"/><ellipse cx="599.5" cy="486.2" rx="97.2" ry="17.8" fill="#ff3d00"/><ellipse cx="599.5" cy="485.3" rx="97.2" ry="17.8" fill="#ff3a00"/><ellipse cx="599.5" cy="484.4" rx="97.2" ry="17.8" fill="#ff3700"/><ellipse cx="599.5" cy="483.5" rx="97.2" ry="17.8" fill="#ff3400"/><ellipse cx="599.5" cy="482.6" rx="97.2" ry="17.8" fill="#ff3100"/><ellipse cx="599.5" cy="481.7" rx="97.2" ry="17.8" fill="#ff2e00"/><ellipse cx="599.5" cy="480.8" rx="97.2" ry="17.8" fill="#ff2b00"/><ellipse cx="599.5" cy="479.9" rx="97.2" ry="17.8" fill="#ff2900"/><ellipse cx="599.5" cy="479" rx="97.2" ry="17.8" fill="#ff2600"/><ellipse cx="599.5" cy="478.1" rx="97.2" ry="17.8" fill="#ff2300"/><ellipse cx="599.5" cy="477.2" rx="97.2" ry="17.8" fill="#ff2000"/><ellipse cx="599.5" cy="476.3" rx="97.2" ry="17.8" fill="#ff1e00"/><ellipse cx="599.5" cy="475.4" rx="97.2" ry="17.8" fill="#ff1b00"/><ellipse cx="599.5" cy="474.5" rx="97.2" ry="17.8" fill="#ff1900"/><ellipse cx="599.5" cy="473.6" rx="97.2" ry="17.8" fill="#ff1700"/><ellipse cx="599.5" cy="472.7" rx="97.2" ry="17.8" fill="#ff1400"/><ellipse cx="599.5" cy="471.8" rx="97.2" ry="17.8" fill="#ff1200"/><ellipse cx="599.5" cy="470.9" rx="97.2" ry="17.8" fill="#ff1000"/><ellipse cx="599.5" cy="470" rx="97.2" ry="17.8" fill="#ff0e00"/><ellipse cx="599.5" cy="469.1" rx="97.2" ry="17.8" fill="#ff0b00"/><ellipse cx="599.5" cy="468.2" rx="97.2" ry="17.8" fill="#ff0900"/><ellipse cx="599.5" cy="467.3" rx="97.2" ry="17.8" fill="#ff0700"/><ellipse cx="599.5" cy="466.4" rx="97.2" ry="17.8" fill="#ff0400"/><ellipse cx="599.5" cy="465.5" rx="97.2" ry="17.8" fill="#ff0400"/><ellipse cx="599.5" cy="464.6" rx="97.2" ry="17.8" fill="#ff0400"/><ellipse cx="599.5" cy="463.7" rx="97.2" ry="17.8" fill="#ff0400"/><ellipse cx="599.5" cy="462.8" rx="97.2" ry="17.8" fill="#ff0400"/><ellipse cx="599.5" cy="461.9" rx="97.2" ry="17.8" fill="#ff0400"/><ellipse cx="599.5" cy="461" rx="97.2" ry="17.8" fill="#ff0400"/><ellipse cx="599.5" cy="460.1" rx="97.2" ry="17.8" fill="#ff0400"/><ellipse cx="599.5" cy="459.2" rx="97.2" ry="17.8" fill="#ff0400"/><ellipse cx="599.5" cy="458.3" rx="97.2" ry="17.8" fill="#ff0400"/><ellipse cx="599.5" cy="457.4" rx="97.2" ry="17.8" fill="#ff0400"/><ellipse cx="599.5" cy="456.5" rx="97.2" ry="17.8" fill="#ff0400"/><ellipse cx="599.5" cy="455.6" rx="97.2" ry="17.8" fill="#ff0300"/><ellipse cx="599.5" cy="454.7" rx="97.2" ry="17.8" fill="#ff0300"/><ellipse cx="599.5" cy="453.8" rx="97.2" ry="17.8" fill="#ff0300"/><ellipse cx="599.5" cy="452.9" rx="97.2" ry="17.8" fill="#ff0300"/><ellipse cx="599.5" cy="452" rx="97.2" ry="17.8" fill="#ff0300"/><ellipse cx="599.5" cy="451.1" rx="97.2" ry="17.8" fill="#ff0300"/><ellipse cx="599.5" cy="450.2" rx="97.2" ry="17.8" fill="#ff0300"/><ellipse cx="599.5" cy="449.3" rx="97.2" ry="17.8" fill="#ff0300"/><ellipse cx="599.5" cy="448.4" rx="97.2" ry="17.8" fill="#ff0300"/><ellipse cx="599.5" cy="447.5" rx="97.2" ry="17.8" fill="#ff0300"/><ellipse cx="599.5" cy="446.6" rx="97.2" ry="17.8" fill="#ff0300"/><ellipse cx="599.5" cy="445.7" rx="97.2" ry="17.8" fill="#ff0300"/><ellipse cx="599.5" cy="444.8" rx="97.2" ry="17.8" fill="#ff0300"/><ellipse cx="599.5" cy="443.9" rx="97.2" ry="17.8" fill="#ff0300"/><ellipse cx="599.5" cy="443" rx="97.2" ry="17.8" fill="#ff0300"/><ellipse cx="599.5" cy="442.1" rx="97.2" ry="17.8" fill="#ff0300"/><ellipse cx="599.5" cy="441.2" rx="97.2" ry="17.8" fill="#ff0300"/><ellipse cx="599.5" cy="440.3" rx="97.2" ry="17.8" fill="#ff0300"/><ellipse cx="599.5" cy="439.4" rx="97.2" ry="17.8" fill="#ff0300"/><ellipse cx="599.5" cy="438.5" rx="97.2" ry="17.8" fill="#ff0300"/><ellipse cx="599.5" cy="437.6" rx="97.2" ry="17.8" fill="#ff0300"/><ellipse cx="599.5" cy="436.7" rx="97.2" ry="17.8" fill="#ff0300"/><ellipse cx="599.5" cy="435.8" rx="97.2" ry="17.8" fill="#ff0300"/><ellipse cx="599.5" cy="434.9" rx="97.2" ry="17.8" fill="#ff0200"/><ellipse cx="599.5" cy="434" rx="97.2" ry="17.8" fill="#ff0200"/><ellipse cx="599.5" cy="433.1" rx="97.2" ry="17.8" fill="#ff0200"/><ellipse cx="599.5" cy="432.2" rx="97.2" ry="17.8" fill="#ff0200"/><ellipse cx="599.5" cy="431.3" rx="97.2" ry="17.8" fill="#ff0200"/><ellipse cx="599.5" cy="430.4" rx="97.2" ry="17.8" fill="#ff0200"/><ellipse cx="599.5" cy="429.5" rx="97.2" ry="17.8" fill="#ff0200"/><ellipse cx="599.5" cy="428.6" rx="97.2" ry="17.8" fill="#ff0200"/><ellipse cx="599.5" cy="427.7" rx="97.2" ry="17.8" fill="#ff0200"/><ellipse cx="599.5" cy="426.8" rx="97.2" ry="17.8" fill="#ff0200"/><ellipse cx="599.5" cy="425.9" rx="97.2" ry="17.8" fill="#ff0200"/><ellipse cx="599.5" cy="425" rx="97.2" ry="17.8" fill="#ff0200"/><ellipse cx="599.5" cy="424.1" rx="97.2" ry="17.8" fill="#ff0200"/><ellipse cx="599.5" cy="423.2" rx="97.2" ry="17.8" fill="#ff0200"/><ellipse cx="599.5" cy="422.3" rx="97.2" ry="17.8" fill="#ff0200"/><ellipse cx="599.5" cy="421.4" rx="97.2" ry="17.8" fill="#ff0200"/><ellipse cx="599.5" cy="420.5" rx="97.2" ry="17.8" fill="#ff0200"/><ellipse cx="599.5" cy="419.6" rx="97.2" ry="17.8" fill="#ff0200"/><ellipse cx="599.5" cy="418.7" rx="97.2" ry="17.8" fill="#ff0200"/><ellipse cx="599.5" cy="417.8" rx="97.2" ry="17.8" fill="#ff0200"/><ellipse cx="599.5" cy="416.9" rx="97.2" ry="17.8" fill="#ff0200"/><ellipse cx="599.5" cy="416" rx="97.2" ry="17.8" fill="#ff0200"/><ellipse cx="599.5" cy="415.1" rx="97.2" ry="17.8" fill="#ff0200"/><ellipse cx="599.5" cy="414.2" rx="97.2" ry="17.8" fill="#ff0100"/><ellipse cx="599.5" cy="413.3" rx="97.2" ry="17.8" fill="#ff0100"/><ellipse cx="599.5" cy="412.4" rx="97.2" ry="17.8" fill="#ff0100"/><ellipse cx="599.5" cy="411.5" rx="97.2" ry="17.8" fill="#ff0100"/><ellipse cx="599.5" cy="410.6" rx="97.2" ry="17.8" fill="#ff0100"/><ellipse cx="599.5" cy="409.7" rx="97.2" ry="17.8" fill="#ff0100"/><ellipse cx="599.5" cy="408.8" rx="97.2" ry="17.8" fill="#ff0100"/><ellipse cx="599.5" cy="407.9" rx="97.2" ry="17.8" fill="#ff0100"/><ellipse cx="599.5" cy="407" rx="97.2" ry="17.8" fill="#ff0100"/><ellipse cx="599.5" cy="406.1" rx="97.2" ry="17.8" fill="#ff0100"/><ellipse cx="599.5" cy="405.2" rx="97.2" ry="17.8" fill="#ff0100"/><ellipse cx="599.5" cy="404.3" rx="97.2" ry="17.8" fill="#ff0100"/><ellipse cx="599.5" cy="403.4" rx="97.2" ry="17.8" fill="#ff0100"/><ellipse cx="599.5" cy="402.5" rx="97.2" ry="17.8" fill="#ff0100"/><ellipse cx="599.5" cy="401.6" rx="97.2" ry="17.8" fill="#ff0100"/><ellipse cx="599.5" cy="400.7" rx="97.2" ry="17.8" fill="#ff0100"/><ellipse cx="599.5" cy="399.8" rx="97.2" ry="17.8" fill="#ff0100"/><ellipse cx="599.5" cy="398.9" rx="97.2" ry="17.8" fill="#ff0100"/><ellipse cx="599.5" cy="398" rx="97.2" ry="17.8" fill="#ff0100"/><ellipse cx="599.5" cy="397.1" rx="97.2" ry="17.8" fill="#ff0100"/><ellipse cx="599.5" cy="396.2" rx="97.2" ry="17.8" fill="#ff0100"/><ellipse cx="599.5" cy="395.3" rx="97.2" ry="17.8" fill="#ff0100"/><ellipse cx="599.5" cy="394.4" rx="97.2" ry="17.8" fill="#ff0100"/><ellipse cx="599.5" cy="393.5" rx="97.2" ry="17.8" fill="#ff0000"/><ellipse cx="599.5" cy="392.6" rx="97.2" ry="17.8" fill="#ff0000"/><ellipse cx="599.5" cy="391.7" rx="97.2" ry="17.8" fill="#ff0000"/><ellipse cx="599.5" cy="390.8" rx="97.2" ry="17.8" fill="#ff0000"/><ellipse cx="599.5" cy="389.9" rx="97.2" ry="17.8" fill="#ff0000"/><ellipse cx="599.5" cy="389" rx="97.2" ry="17.8" fill="#ff0000"/><ellipse cx="599.5" cy="388.1" rx="97.2" ry="17.8" fill="#ff0000"/><ellipse cx="599.5" cy="387.2" rx="97.2" ry="17.8" fill="#ff0000"/><ellipse cx="599.5" cy="386.3" rx="97.2" ry="17.8" fill="#ff0000"/><ellipse cx="599.5" cy="385.4" rx="97.2" ry="17.8" fill="#ff0000"/><ellipse cx="599.5" cy="384.5" rx="97.2" ry="17.8" fill="#ff0000"/><ellipse cx="599.5" cy="383.6" rx="97.2" ry="17.8" fill="#ff0000"/><ellipse cx="599.5" cy="382.7" rx="97.2" ry="17.8" fill="#ff0000"/><ellipse cx="599.5" cy="381.8" rx="97.2" ry="17.8" fill="#ff0000"/><ellipse cx="599.5" cy="380.9" rx="97.2" ry="17.8" fill="#ff0000"/><ellipse cx="599.5" cy="380" rx="97.2" ry="17.8" fill="#ff0000"/><ellipse cx="599.5" cy="379.1" rx="97.2" ry="17.8" fill="#ff0000"/><ellipse cx="599.5" cy="378.2" rx="97.2" ry="17.8" fill="#ff0000"/><ellipse cx="599.5" cy="377.3" rx="97.2" ry="17.8" fill="#ff0000"/><ellipse cx="599.5" cy="376.4" rx="97.2" ry="17.8" fill="#ff0000"/><ellipse cx="599.5" cy="375.5" rx="97.2" ry="17.8" fill="#ff0000"/><ellipse cx="599.5" cy="374.6" rx="97.2" ry="17.8" fill="#ff0000"/><ellipse cx="599.5" cy="373.7" rx="97.2" ry="17.8" fill="#ff0000"/><ellipse cx="599.5" cy="372.8" rx="97.2" ry="17.8" fill="#ff0000"/><ellipse cx="599.5" cy="371.9" rx="97.2" ry="17.8" fill="#ff0000"/><ellipse cx="599.5" cy="371" rx="97.2" ry="17.8" fill="#ff0000"/><ellipse cx="599.5" cy="370.1" rx="97.2" ry="17.8" fill="#ff0000"/></g>
<g clip-path="url(#cd)"><ellipse cx="599.5" cy="464.3" rx="85.5" ry="76.7" fill="url(#rim)" opacity="1"/><ellipse cx="600" cy="415" rx="30" ry="22" fill="url(#hl)" opacity="1"/><ellipse cx="565" cy="476" rx="26" ry="26" fill="url(#hl)" opacity="1"/><ellipse cx="637" cy="474" rx="26" ry="26" fill="url(#hl)" opacity="1"/></g>
<path d="M707 484.5L706.7 489L705.7 493.4L704 497.8L701.7 502.1L698.8 506.3L695.3 510.4L691.2 514.3L686.5 518L681.2 521.5L675.5 524.8L669.3 527.8L662.7 530.6L655.7 533.1L648.3 535.3L640.6 537.2L632.7 538.7L624.6 539.9L616.3 540.8L607.9 541.3L599.5 541.5L591.1 541.3L582.7 540.8L574.4 539.9L566.3 538.7L558.4 537.2L550.7 535.3L543.3 533.1L536.3 530.6L529.7 527.8L523.5 524.8L517.8 521.5L512.5 518L507.8 514.3L503.7 510.4L500.2 506.3L497.3 502.1L495 497.8L493.3 493.4L492.3 489L492 484.5M599.5 575.5L609.1 576.9L618.6 577.4L628 577.2L637.1 576.1L645.8 574.3L654.2 571.6L662.1 568.2L669.4 564L676.1 559.1L682.2 553.6L687.5 547.5L692 540.8L695.7 533.7L698.6 526L700.6 518.1L701.8 509.8L702 501.3L701.3 492.7L699.7 484L697.3 475.3L693.9 466.6L689.8 458.2L684.8 449.9L679.2 442L672.8 434.4L665.7 427.3L658.1 420.7L650 414.7L641.4 409.2L632.4 404.4L623.2 400.4L613.8 397L604.2 394.5L594.6 392.7L585 391.7L575.6 391.6L566.3 392.2L557.4 393.7L548.8 396L540.7 399.1" fill="none" stroke="#4a3a3a" stroke-opacity="0.6" stroke-width="0.7"/>
<line x1="576.5" y1="521.5" x2="564.5" y2="543.5" stroke="#9a8a5a" stroke-width="0.6"/><line x1="564.5" y1="543.5" x2="558.5" y2="542.5" stroke="#8a8a8a" stroke-width="0.8"/><line x1="677.5" y1="498" x2="702" y2="503.5" stroke="#555" stroke-width="0.9"/><line x1="599.5" y1="390.5" x2="599.5" y2="401.5" stroke="#333" stroke-width="0.9"/>
<g font-family='"Liberation Sans", sans-serif' font-size="10.5" fill="#141414" stroke="#141414" stroke-width="0.15"><text x="599.7" y="376" textLength="64" lengthAdjust="spacingAndGlyphs">dB(GainTotal)</text><text x="604.7" y="386">0</text><text x="610.7" y="391.7" textLength="51" lengthAdjust="spacingAndGlyphs">Theta (deg)</text><text x="603.3" y="394.3" textLength="10.5" lengthAdjust="spacingAndGlyphs">-10</text><text x="505" y="517.7" textLength="16" lengthAdjust="spacingAndGlyphs">120</text><text x="569" y="544.3">0</text><text x="573.3" y="544.3" textLength="40.6" lengthAdjust="spacingAndGlyphs">Phi (deg)</text><text x="714" y="473.3" textLength="16" lengthAdjust="spacingAndGlyphs">120</text><text x="702.3" y="504">-10</text><text x="722.7" y="507.3" textLength="64" lengthAdjust="spacingAndGlyphs">dB(GainTotal)</text><text x="695.7" y="552" textLength="16" lengthAdjust="spacingAndGlyphs">120</text></g>
<path d="M902.4 495L902.7 490.4L903.7 485.9L905.4 481.5L907.7 477.1L910.7 472.8L914.2 468.7L918.4 464.7L923.1 460.9L928.4 457.3L934.2 454L940.5 450.9L947.2 448.1L954.3 445.5L961.7 443.3L969.4 441.4L977.4 439.8L985.6 438.6L994 437.7L1002.5 437.2L1011 437L1019.5 437.2L1028 437.7L1036.4 438.6L1044.6 439.8L1052.6 441.4L1060.3 443.3L1067.7 445.5L1074.8 448.1L1081.5 450.9L1087.8 454L1093.6 457.3L1098.9 460.9L1103.6 464.7L1107.8 468.7L1111.3 472.8L1114.3 477.1L1116.6 481.5L1118.3 485.9L1119.3 490.4L1119.6 495M951.9 408.7L946.7 411.3L941.7 414.1L937.1 417.3L932.7 420.8L928.6 424.6L924.9 428.7L921.5 433L918.4 437.6L915.8 442.4L913.5 447.4L911.6 452.7L910.1 458L909 463.6L908.3 469.2L908 475L908.1 480.8L908.7 486.7L909.6 492.7L911 498.6L912.8 504.5L914.9 510.4L917.5 516.3L920.4 522L923.7 527.6L927.3 533.1L931.2 538.5L935.5 543.7L940.1 548.7L945 553.4L950.1 558L955.5 562.2L961.1 566.3L966.9 570L972.8 573.4L979 576.5L985.2 579.3L991.6 581.8L998 583.9L1004.5 585.6L1011 587" fill="none" stroke="#8e8e8e" stroke-width="0.7"/><line x1="1031" y1="492.8" x2="1123" y2="483" stroke="#c4c4c4" stroke-width="0.8"/><line x1="1031" y1="509" x2="1105" y2="561" stroke="#c4c4c4" stroke-width="0.8"/><line x1="991" y1="502" x2="933" y2="522" stroke="#c4c4c4" stroke-width="0.8"/>
<g font-family='"Liberation Sans", sans-serif' font-size="10.5" fill="#141414" stroke="#141414" stroke-width="0.15"><text x="933.3" y="449.3" textLength="16" lengthAdjust="spacingAndGlyphs">240</text></g>
<g clip-path="url(#ce)"><ellipse cx="1010.8" cy="539.9" rx="86" ry="17.8" fill="#90f000"/><ellipse cx="1010.8" cy="539" rx="86" ry="17.8" fill="#90f000"/><ellipse cx="1010.8" cy="538.1" rx="86" ry="17.8" fill="#90f000"/><ellipse cx="1010.8" cy="537.2" rx="86" ry="17.8" fill="#90f000"/><ellipse cx="1010.8" cy="536.3" rx="86" ry="17.8" fill="#90f000"/><ellipse cx="1010.8" cy="535.4" rx="86" ry="17.8" fill="#90f000"/><ellipse cx="1010.8" cy="534.5" rx="86" ry="17.8" fill="#90f000"/><ellipse cx="1010.8" cy="533.6" rx="86" ry="17.8" fill="#90f000"/><ellipse cx="1010.8" cy="532.7" rx="86" ry="17.8" fill="#90f000"/><ellipse cx="1010.8" cy="531.8" rx="86" ry="17.8" fill="#90f000"/><ellipse cx="1010.8" cy="530.9" rx="86" ry="17.8" fill="#90f000"/><ellipse cx="1010.8" cy="530" rx="86" ry="17.8" fill="#90f000"/><ellipse cx="1010.8" cy="529.1" rx="86" ry="17.8" fill="#90f000"/><ellipse cx="1010.8" cy="528.2" rx="86" ry="17.8" fill="#98ef00"/><ellipse cx="1010.8" cy="527.3" rx="86" ry="17.8" fill="#a7ec00"/><ellipse cx="1010.8" cy="526.4" rx="86" ry="17.8" fill="#b5e800"/><ellipse cx="1010.8" cy="525.5" rx="86" ry="17.8" fill="#c4e400"/><ellipse cx="1010.8" cy="524.6" rx="86" ry="17.8" fill="#d1e000"/><ellipse cx="1010.8" cy="523.7" rx="86" ry="17.8" fill="#d6dd00"/><ellipse cx="1010.8" cy="522.8" rx="86" ry="17.8" fill="#dbda00"/><ellipse cx="1010.8" cy="521.9" rx="86" ry="17.8" fill="#e0d800"/><ellipse cx="1010.8" cy="521" rx="86" ry="17.8" fill="#e6d500"/><ellipse cx="1010.8" cy="520.1" rx="86" ry="17.8" fill="#ebd300"/><ellipse cx="1010.8" cy="519.2" rx="86" ry="17.8" fill="#f0d000"/><ellipse cx="1010.8" cy="518.3" rx="86" ry="17.8" fill="#f1cf00"/><ellipse cx="1010.8" cy="517.4" rx="86" ry="17.8" fill="#f2cf00"/><ellipse cx="1010.8" cy="516.5" rx="86" ry="17.8" fill="#f4ce00"/><ellipse cx="1010.8" cy="515.6" rx="86" ry="17.8" fill="#f5cd00"/><ellipse cx="1010.8" cy="514.7" rx="86" ry="17.8" fill="#f6cd00"/><ellipse cx="1010.8" cy="513.8" rx="86" ry="17.8" fill="#f7cc00"/><ellipse cx="1010.8" cy="512.9" rx="86" ry="17.8" fill="#f9cb00"/><ellipse cx="1010.8" cy="512" rx="86" ry="17.8" fill="#facb00"/><ellipse cx="1010.8" cy="511.1" rx="86" ry="17.8" fill="#fbca00"/><ellipse cx="1010.8" cy="510.2" rx="86" ry="17.8" fill="#fcc900"/><ellipse cx="1010.8" cy="509.3" rx="86" ry="17.8" fill="#fec900"/><ellipse cx="1010.8" cy="508.4" rx="86" ry="17.8" fill="#ffc800"/><ellipse cx="1010.8" cy="507.5" rx="86" ry="17.8" fill="#ffc700"/><ellipse cx="1010.8" cy="506.6" rx="86" ry="17.8" fill="#ffc500"/><ellipse cx="1010.8" cy="505.7" rx="86" ry="17.8" fill="#ffc400"/><ellipse cx="1010.8" cy="504.8" rx="86" ry="17.8" fill="#ffc200"/><ellipse cx="1010.8" cy="503.9" rx="86" ry="17.8" fill="#ffc000"/><ellipse cx="1010.8" cy="503" rx="86" ry="17.8" fill="#ffbf00"/><ellipse cx="1010.8" cy="502.1" rx="86" ry="17.8" fill="#ffbd00"/><ellipse cx="1010.8" cy="501.2" rx="86" ry="17.8" fill="#ffbc00"/><ellipse cx="1010.8" cy="500.3" rx="86" ry="17.8" fill="#ffba00"/><ellipse cx="1010.8" cy="499.4" rx="86" ry="17.8" fill="#ffb800"/><ellipse cx="1010.8" cy="498.5" rx="86" ry="17.8" fill="#ffb700"/><ellipse cx="1010.8" cy="497.6" rx="86" ry="17.8" fill="#ffb500"/><ellipse cx="1010.8" cy="496.7" rx="86" ry="17.8" fill="#ffb400"/><ellipse cx="1010.8" cy="495.8" rx="86" ry="17.8" fill="#ffb200"/><ellipse cx="1010.8" cy="494.9" rx="86" ry="17.8" fill="#ffb000"/><ellipse cx="1010.8" cy="494" rx="86" ry="17.8" fill="#ffaf00"/><ellipse cx="1010.8" cy="493.1" rx="86" ry="17.8" fill="#ffad00"/><ellipse cx="1010.8" cy="492.2" rx="86" ry="17.8" fill="#ffac00"/><ellipse cx="1010.8" cy="491.3" rx="86" ry="17.8" fill="#ffaa00"/><ellipse cx="1010.8" cy="490.4" rx="86" ry="17.8" fill="#ffa800"/><ellipse cx="1010.8" cy="489.5" rx="86" ry="17.8" fill="#ffa600"/><ellipse cx="1010.8" cy="488.6" rx="86" ry="17.8" fill="#ffa400"/><ellipse cx="1010.8" cy="487.7" rx="86" ry="17.8" fill="#ffa200"/><ellipse cx="1010.8" cy="486.8" rx="86" ry="17.8" fill="#ffa000"/><ellipse cx="1010.8" cy="485.9" rx="86" ry="17.8" fill="#ff9e00"/><ellipse cx="1010.8" cy="485" rx="86" ry="17.8" fill="#ff9c00"/><ellipse cx="1010.8" cy="484.1" rx="86" ry="17.8" fill="#ff9a00"/><ellipse cx="1010.8" cy="483.2" rx="86" ry="17.8" fill="#ff9800"/><ellipse cx="1010.8" cy="482.3" rx="86" ry="17.8" fill="#ff9600"/><ellipse cx="1010.8" cy="481.4" rx="86" ry="17.8" fill="#ff9400"/><ellipse cx="1010.8" cy="480.5" rx="86" ry="17.8" fill="#ff9200"/><ellipse cx="1010.8" cy="479.6" rx="86" ry="17.8" fill="#ff9000"/><ellipse cx="1010.8" cy="478.7" rx="86" ry="17.8" fill="#ff8e00"/><ellipse cx="1010.8" cy="477.8" rx="86" ry="17.8" fill="#ff8c00"/><ellipse cx="1010.8" cy="476.9" rx="86" ry="17.8" fill="#ff8a00"/><ellipse cx="1010.8" cy="476" rx="86" ry="17.8" fill="#ff8800"/><ellipse cx="1010.8" cy="475.1" rx="86" ry="17.8" fill="#ff8600"/><ellipse cx="1010.8" cy="474.2" rx="86" ry="17.8" fill="#ff8400"/><ellipse cx="1010.8" cy="473.3" rx="86" ry="17.8" fill="#ff8200"/><ellipse cx="1010.8" cy="472.4" rx="86" ry="17.8" fill="#ff8000"/><ellipse cx="1010.8" cy="471.5" rx="86" ry="17.8" fill="#ff7e00"/><ellipse cx="1010.8" cy="470.6" rx="86" ry="17.8" fill="#ff7c00"/><ellipse cx="1010.8" cy="469.7" rx="86" ry="17.8" fill="#ff7900"/><ellipse cx="1010.8" cy="468.8" rx="86" ry="17.8" fill="#ff7700"/><ellipse cx="1010.8" cy="467.9" rx="86" ry="17.8" fill="#ff7400"/><ellipse cx="1010.8" cy="467" rx="86" ry="17.8" fill="#ff7200"/><ellipse cx="1010.8" cy="466.1" rx="86" ry="17.8" fill="#ff7000"/><ellipse cx="1010.8" cy="465.2" rx="86" ry="17.8" fill="#ff6d00"/><ellipse cx="1010.8" cy="464.3" rx="86" ry="17.8" fill="#ff6b00"/><ellipse cx="1010.8" cy="463.4" rx="86" ry="17.8" fill="#ff6800"/><ellipse cx="1010.8" cy="462.5" rx="86" ry="17.8" fill="#ff6600"/><ellipse cx="1010.8" cy="461.6" rx="86" ry="17.8" fill="#ff6400"/><ellipse cx="1010.8" cy="460.7" rx="86" ry="17.8" fill="#ff6100"/><ellipse cx="1010.8" cy="459.8" rx="86" ry="17.8" fill="#ff5f00"/><ellipse cx="1010.8" cy="458.9" rx="86" ry="17.8" fill="#ff5c00"/><ellipse cx="1010.8" cy="458" rx="86" ry="17.8" fill="#ff5a00"/><ellipse cx="1010.8" cy="457.1" rx="86" ry="17.8" fill="#ff5800"/><ellipse cx="1010.8" cy="456.2" rx="86" ry="17.8" fill="#ff5500"/><ellipse cx="1010.8" cy="455.3" rx="86" ry="17.8" fill="#ff5300"/><ellipse cx="1010.8" cy="454.4" rx="86" ry="17.8" fill="#ff5000"/><ellipse cx="1010.8" cy="453.5" rx="86" ry="17.8" fill="#ff4f00"/><ellipse cx="1010.8" cy="452.6" rx="86" ry="17.8" fill="#ff4d00"/><ellipse cx="1010.8" cy="451.7" rx="86" ry="17.8" fill="#ff4b00"/><ellipse cx="1010.8" cy="450.8" rx="86" ry="17.8" fill="#ff4900"/><ellipse cx="1010.8" cy="449.9" rx="86" ry="17.8" fill="#ff4700"/><ellipse cx="1010.8" cy="449" rx="86" ry="17.8" fill="#ff4600"/><ellipse cx="1010.8" cy="448.1" rx="86" ry="17.8" fill="#ff4400"/><ellipse cx="1010.8" cy="447.2" rx="86" ry="17.8" fill="#ff4200"/><ellipse cx="1010.8" cy="446.3" rx="86" ry="17.8" fill="#ff4000"/><ellipse cx="1010.8" cy="445.4" rx="86" ry="17.8" fill="#ff3e00"/><ellipse cx="1010.8" cy="444.5" rx="86" ry="17.8" fill="#ff3d00"/><ellipse cx="1010.8" cy="443.6" rx="86" ry="17.8" fill="#ff3b00"/><ellipse cx="1010.8" cy="442.7" rx="86" ry="17.8" fill="#ff3900"/><ellipse cx="1010.8" cy="441.8" rx="86" ry="17.8" fill="#ff3700"/><ellipse cx="1010.8" cy="440.9" rx="86" ry="17.8" fill="#ff3500"/><ellipse cx="1010.8" cy="440" rx="86" ry="17.8" fill="#ff3400"/><ellipse cx="1010.8" cy="439.1" rx="86" ry="17.8" fill="#ff3200"/><ellipse cx="1010.8" cy="438.2" rx="86" ry="17.8" fill="#ff3000"/><ellipse cx="1010.8" cy="437.3" rx="86" ry="17.8" fill="#ff2e00"/><ellipse cx="1010.8" cy="436.4" rx="86" ry="17.8" fill="#ff2c00"/><ellipse cx="1010.8" cy="435.5" rx="86" ry="17.8" fill="#ff2b00"/><ellipse cx="1010.8" cy="434.6" rx="86" ry="17.8" fill="#ff2900"/><ellipse cx="1010.8" cy="433.7" rx="86" ry="17.8" fill="#ff2800"/><ellipse cx="1010.8" cy="432.8" rx="86" ry="17.8" fill="#ff2600"/><ellipse cx="1010.8" cy="431.9" rx="86" ry="17.8" fill="#ff2400"/><ellipse cx="1010.8" cy="431" rx="86" ry="17.8" fill="#ff2300"/><ellipse cx="1010.8" cy="430.1" rx="86" ry="17.8" fill="#ff2100"/><ellipse cx="1010.8" cy="429.2" rx="86" ry="17.8" fill="#ff2000"/><ellipse cx="1010.8" cy="428.3" rx="86" ry="17.8" fill="#ff1e00"/><ellipse cx="1010.8" cy="427.4" rx="86" ry="17.8" fill="#ff1c00"/><ellipse cx="1010.8" cy="426.5" rx="86" ry="17.8" fill="#ff1b00"/><ellipse cx="1010.8" cy="425.6" rx="86" ry="17.8" fill="#ff1900"/><ellipse cx="1010.8" cy="424.7" rx="86" ry="17.8" fill="#ff1800"/><ellipse cx="1010.8" cy="423.8" rx="86" ry="17.8" fill="#ff1600"/><ellipse cx="1010.8" cy="422.9" rx="86" ry="17.8" fill="#ff1400"/><ellipse cx="1010.8" cy="422" rx="86" ry="17.8" fill="#ff1300"/><ellipse cx="1010.8" cy="421.1" rx="86" ry="17.8" fill="#ff1100"/><ellipse cx="1010.8" cy="420.2" rx="86" ry="17.8" fill="#ff1000"/><ellipse cx="1010.8" cy="419.3" rx="86" ry="17.8" fill="#ff0e00"/><ellipse cx="1010.8" cy="418.4" rx="86" ry="17.8" fill="#ff0c00"/><ellipse cx="1010.8" cy="417.5" rx="86" ry="17.8" fill="#ff0c00"/><ellipse cx="1010.8" cy="416.6" rx="86" ry="17.8" fill="#ff0b00"/><ellipse cx="1010.8" cy="415.7" rx="86" ry="17.8" fill="#ff0a00"/><ellipse cx="1010.8" cy="414.8" rx="86" ry="17.8" fill="#ff0a00"/><ellipse cx="1010.8" cy="413.9" rx="86" ry="17.8" fill="#ff0900"/><ellipse cx="1010.8" cy="413" rx="86" ry="17.8" fill="#ff0900"/><ellipse cx="1010.8" cy="412.1" rx="86" ry="17.8" fill="#ff0800"/><ellipse cx="1010.8" cy="411.2" rx="86" ry="17.8" fill="#ff0800"/><ellipse cx="1010.8" cy="410.3" rx="86" ry="17.8" fill="#ff0700"/><ellipse cx="1010.8" cy="409.4" rx="86" ry="17.8" fill="#ff0700"/><ellipse cx="1010.8" cy="408.5" rx="86" ry="17.8" fill="#ff0600"/><ellipse cx="1010.8" cy="407.6" rx="86" ry="17.8" fill="#ff0600"/><ellipse cx="1010.8" cy="406.7" rx="86" ry="17.8" fill="#ff0500"/><ellipse cx="1010.8" cy="405.8" rx="86" ry="17.8" fill="#ff0500"/><ellipse cx="1010.8" cy="404.9" rx="86" ry="17.8" fill="#ff0400"/><ellipse cx="1010.8" cy="404" rx="86" ry="17.8" fill="#ff0300"/><ellipse cx="1010.8" cy="403.1" rx="86" ry="17.8" fill="#ff0300"/><ellipse cx="1010.8" cy="402.2" rx="86" ry="17.8" fill="#ff0200"/><ellipse cx="1010.8" cy="401.3" rx="86" ry="17.8" fill="#ff0200"/><ellipse cx="1010.8" cy="400.4" rx="86" ry="17.8" fill="#ff0100"/><ellipse cx="1010.8" cy="399.5" rx="86" ry="17.8" fill="#ff0100"/><ellipse cx="1010.8" cy="398.6" rx="86" ry="17.8" fill="#ff0000"/><ellipse cx="1010.8" cy="397.7" rx="86" ry="17.8" fill="#ff0000"/><ellipse cx="1010.8" cy="396.8" rx="86" ry="17.8" fill="#ff0000"/><ellipse cx="1010.8" cy="395.9" rx="86" ry="17.8" fill="#ff0000"/><ellipse cx="1010.8" cy="395" rx="86" ry="17.8" fill="#ff0000"/><ellipse cx="1010.8" cy="394.1" rx="86" ry="17.8" fill="#ff0000"/><ellipse cx="1010.8" cy="393.2" rx="86" ry="17.8" fill="#ff0000"/><ellipse cx="1010.8" cy="392.3" rx="86" ry="17.8" fill="#ff0000"/><ellipse cx="1010.8" cy="391.4" rx="86" ry="17.8" fill="#ff0000"/><ellipse cx="1010.8" cy="390.5" rx="86" ry="17.8" fill="#ff0000"/><ellipse cx="1010.8" cy="389.6" rx="86" ry="17.8" fill="#ff0000"/><ellipse cx="1010.8" cy="388.7" rx="86" ry="17.8" fill="#ff0000"/><ellipse cx="1010.8" cy="387.8" rx="86" ry="17.8" fill="#ff0000"/><ellipse cx="1010.8" cy="386.9" rx="86" ry="17.8" fill="#ff0000"/></g>
<g clip-path="url(#ce)"><ellipse cx="1010.8" cy="475.8" rx="75.8" ry="71.2" fill="url(#rim)" opacity="1"/><ellipse cx="1011" cy="430" rx="26" ry="20" fill="url(#hl)" opacity="1"/><ellipse cx="980" cy="486" rx="24" ry="24" fill="url(#hl)" opacity="1"/><ellipse cx="1043" cy="486" rx="24" ry="24" fill="url(#hl)" opacity="1"/></g>
<path d="M1119.6 495L1119.3 499.6L1118.3 504.1L1116.6 508.5L1114.3 512.9L1111.3 517.2L1107.8 521.3L1103.6 525.3L1098.9 529.1L1093.6 532.7L1087.8 536L1081.5 539.1L1074.8 541.9L1067.7 544.5L1060.3 546.7L1052.6 548.6L1044.6 550.2L1036.4 551.4L1028 552.3L1019.5 552.8L1011 553L1002.5 552.8L994 552.3L985.6 551.4L977.4 550.2L969.4 548.6L961.7 546.7L954.3 544.5L947.2 541.9L940.5 539.1L934.2 536L928.4 532.7L923.1 529.1L918.4 525.3L914.2 521.3L910.7 517.2L907.7 512.9L905.4 508.5L903.7 504.1L902.7 499.6L902.4 495M1011 587L1020.6 588.4L1030.2 588.9L1039.6 588.7L1048.7 587.6L1057.6 585.7L1066 582.9L1073.9 579.5L1081.2 575.2L1088 570.3L1094.1 564.7L1099.4 558.5L1104 551.8L1107.7 544.5L1110.6 536.8L1112.6 528.7L1113.7 520.4L1114 511.8L1113.3 503.1L1111.7 494.3L1109.2 485.5L1105.9 476.7L1101.7 468.2L1096.8 459.9L1091 451.9L1084.6 444.2L1077.6 437.1L1069.9 430.4L1061.7 424.3L1053.1 418.8L1044.1 414L1034.8 409.9L1025.3 406.5L1015.7 404L1006.1 402.2L996.4 401.2L987 401.1L977.7 401.8L968.7 403.3L960.1 405.6L951.9 408.7" fill="none" stroke="#4a3a3a" stroke-opacity="0.6" stroke-width="0.7"/>
<line x1="988" y1="532" x2="976" y2="554" stroke="#9a8a5a" stroke-width="0.6"/><line x1="976" y1="554" x2="970" y2="553" stroke="#8a8a8a" stroke-width="0.8"/><line x1="1077" y1="508" x2="1114" y2="514" stroke="#555" stroke-width="0.9"/><line x1="1011" y1="399" x2="1011" y2="417" stroke="#333" stroke-width="0.9"/>
<g font-family='"Liberation Sans", sans-serif' font-size="10.5" fill="#141414" stroke="#141414" stroke-width="0.15"><text x="1011" y="385.7" textLength="64" lengthAdjust="spacingAndGlyphs">dB(GainTotal)</text><text x="1016.7" y="395.7">0</text><text x="1022.7" y="401.7" textLength="51" lengthAdjust="spacingAndGlyphs">Theta (deg)</text><text x="1014" y="404" textLength="14" lengthAdjust="spacingAndGlyphs">-5.0</text><text x="915.7" y="528.3" textLength="16" lengthAdjust="spacingAndGlyphs">120</text><text x="979.3" y="555">0</text><text x="984" y="555" textLength="40.6" lengthAdjust="spacingAndGlyphs">Phi (deg)</text><text x="1079.3" y="505">.5</text><text x="1115" y="514">-5.0</text><text x="1135" y="517.3" textLength="64" lengthAdjust="spacingAndGlyphs">dB(GainTotal)</text><text x="1126" y="483.3" textLength="16" lengthAdjust="spacingAndGlyphs">120</text><text x="1107.3" y="562.3" textLength="16" lengthAdjust="spacingAndGlyphs">120</text></g>
<path d="M85.8 738L86.1 733.4L87.1 728.9L88.8 724.5L91 720.1L94 715.8L97.5 711.7L101.6 707.7L106.3 703.9L111.5 700.3L117.2 697L123.4 693.9L130 691.1L137 688.5L144.3 686.3L152 684.4L159.9 682.8L168 681.6L176.2 680.7L184.6 680.2L193 680L201.4 680.2L209.8 680.7L218 681.6L226.1 682.8L234 684.4L241.7 686.3L249 688.5L256 691.1L262.6 693.9L268.8 697L274.5 700.3L279.7 703.9L284.4 707.7L288.5 711.7L292 715.8L295 720.1L297.2 724.5L298.9 728.9L299.9 733.4L300.2 738M134.5 652.7L129.3 655.3L124.4 658.2L119.8 661.4L115.4 664.9L111.4 668.7L107.7 672.8L104.3 677.1L101.3 681.7L98.7 686.5L96.4 691.5L94.5 696.7L93 702.1L92 707.6L91.3 713.3L91 719L91.1 724.8L91.7 730.7L92.6 736.6L94 742.5L95.7 748.3L97.9 754.2L100.4 760L103.3 765.6L106.5 771.2L110.1 776.7L114 782L118.3 787.1L122.8 792L127.6 796.7L132.7 801.1L138 805.4L143.5 809.3L149.3 813L155.2 816.3L161.3 819.4L167.5 822.1L173.8 824.5L180.1 826.5L186.6 828.2L193 829.5" fill="none" stroke="#8e8e8e" stroke-width="0.7"/><line x1="213" y1="735.8" x2="305" y2="726" stroke="#c4c4c4" stroke-width="0.8"/><line x1="213" y1="752" x2="287" y2="804" stroke="#c4c4c4" stroke-width="0.8"/><line x1="173" y1="745" x2="115" y2="765" stroke="#c4c4c4" stroke-width="0.8"/>
<g font-family='"Liberation Sans", sans-serif' font-size="10.5" fill="#141414" stroke="#141414" stroke-width="0.15"><text x="115.7" y="693.3" textLength="16" lengthAdjust="spacingAndGlyphs">240</text><text x="247" y="749">-10</text></g>
<g clip-path="url(#cfl)"><ellipse cx="193" cy="790.8" rx="36.8" ry="7.9" fill="#58e800"/><ellipse cx="193" cy="789.9" rx="36.8" ry="7.9" fill="#58e800"/><ellipse cx="193" cy="789" rx="36.8" ry="7.9" fill="#58e800"/><ellipse cx="193" cy="788.1" rx="36.8" ry="7.9" fill="#58e800"/><ellipse cx="193" cy="787.2" rx="36.8" ry="7.9" fill="#58e800"/><ellipse cx="193" cy="786.3" rx="36.8" ry="7.9" fill="#58e800"/><ellipse cx="193" cy="785.4" rx="36.8" ry="7.9" fill="#51eb04"/><ellipse cx="193" cy="784.5" rx="36.8" ry="7.9" fill="#48ee09"/><ellipse cx="193" cy="783.6" rx="36.8" ry="7.9" fill="#3ff20f"/><ellipse cx="193" cy="782.7" rx="36.8" ry="7.9" fill="#36f514"/><ellipse cx="193" cy="781.8" rx="36.8" ry="7.9" fill="#30f819"/><ellipse cx="193" cy="780.9" rx="36.8" ry="7.9" fill="#2ffa1d"/><ellipse cx="193" cy="780" rx="36.8" ry="7.9" fill="#2efb20"/><ellipse cx="193" cy="779.1" rx="36.8" ry="7.9" fill="#2efc24"/><ellipse cx="193" cy="778.2" rx="36.8" ry="7.9" fill="#2dfd27"/><ellipse cx="193" cy="777.3" rx="36.8" ry="7.9" fill="#2cff2b"/><ellipse cx="193" cy="776.4" rx="36.8" ry="7.9" fill="#2cff2c"/><ellipse cx="193" cy="775.5" rx="36.8" ry="7.9" fill="#2cff2c"/><ellipse cx="193" cy="774.6" rx="36.8" ry="7.9" fill="#2dff2d"/><ellipse cx="193" cy="773.7" rx="36.8" ry="7.9" fill="#2dff2d"/><ellipse cx="193" cy="772.8" rx="36.8" ry="7.9" fill="#2dff2d"/><ellipse cx="193" cy="771.9" rx="36.8" ry="7.9" fill="#2dff2d"/><ellipse cx="193" cy="771" rx="36.8" ry="7.9" fill="#2eff2e"/><ellipse cx="193" cy="770.1" rx="36.8" ry="7.9" fill="#2eff2e"/><ellipse cx="193" cy="769.2" rx="36.8" ry="7.9" fill="#2eff2e"/><ellipse cx="193" cy="768.3" rx="36.8" ry="7.9" fill="#2eff2e"/><ellipse cx="193" cy="767.4" rx="36.8" ry="7.9" fill="#2fff2f"/><ellipse cx="193" cy="766.5" rx="36.8" ry="7.9" fill="#2fff2f"/><ellipse cx="193" cy="765.6" rx="36.8" ry="7.9" fill="#2fff2f"/><ellipse cx="193" cy="764.7" rx="36.8" ry="7.9" fill="#2fff2f"/><ellipse cx="193" cy="763.8" rx="36.8" ry="7.9" fill="#30ff30"/><ellipse cx="193" cy="762.9" rx="36.8" ry="7.9" fill="#30ff30"/><ellipse cx="193" cy="762" rx="36.8" ry="7.9" fill="#30ff30"/><ellipse cx="193" cy="761.1" rx="36.8" ry="7.9" fill="#30ff30"/><ellipse cx="193" cy="760.2" rx="36.8" ry="7.9" fill="#30ff30"/><ellipse cx="193" cy="759.3" rx="36.8" ry="7.9" fill="#30ff30"/><ellipse cx="193" cy="758.4" rx="36.8" ry="7.9" fill="#30ff30"/><ellipse cx="193" cy="757.5" rx="36.8" ry="7.9" fill="#30ff30"/><ellipse cx="193" cy="756.6" rx="36.8" ry="7.9" fill="#30ff30"/><ellipse cx="193" cy="755.7" rx="36.8" ry="7.9" fill="#30ff30"/><ellipse cx="193" cy="754.8" rx="36.8" ry="7.9" fill="#30ff30"/><ellipse cx="193" cy="753.9" rx="36.8" ry="7.9" fill="#30ff30"/><ellipse cx="193" cy="753" rx="36.8" ry="7.9" fill="#30ff30"/><ellipse cx="193" cy="752.1" rx="36.8" ry="7.9" fill="#30ff30"/><ellipse cx="193" cy="751.2" rx="36.8" ry="7.9" fill="#30ff30"/><ellipse cx="193" cy="750.3" rx="36.8" ry="7.9" fill="#30ff30"/><ellipse cx="193" cy="749.4" rx="36.8" ry="7.9" fill="#30ff30"/><ellipse cx="193" cy="748.5" rx="36.8" ry="7.9" fill="#30ff30"/><ellipse cx="193" cy="747.6" rx="36.8" ry="7.9" fill="#30ff30"/><ellipse cx="193" cy="746.7" rx="36.8" ry="7.9" fill="#30ff30"/><ellipse cx="193" cy="745.8" rx="36.8" ry="7.9" fill="#30ff30"/><ellipse cx="193" cy="744.9" rx="36.8" ry="7.9" fill="#30ff30"/><ellipse cx="193" cy="744" rx="36.8" ry="7.9" fill="#30ff30"/></g>
<g clip-path="url(#cf)"><ellipse cx="192.3" cy="772.9" rx="81.3" ry="17.8" fill="#a0f000"/><ellipse cx="192.3" cy="772" rx="81.3" ry="17.8" fill="#a0f000"/><ellipse cx="192.3" cy="771.1" rx="81.3" ry="17.8" fill="#a0f000"/><ellipse cx="192.3" cy="770.2" rx="81.3" ry="17.8" fill="#a0f000"/><ellipse cx="192.3" cy="769.3" rx="81.3" ry="17.8" fill="#a0f000"/><ellipse cx="192.3" cy="768.4" rx="81.3" ry="17.8" fill="#a0f000"/><ellipse cx="192.3" cy="767.5" rx="81.3" ry="17.8" fill="#a0f000"/><ellipse cx="192.3" cy="766.6" rx="81.3" ry="17.8" fill="#a0f000"/><ellipse cx="192.3" cy="765.7" rx="81.3" ry="17.8" fill="#a0f000"/><ellipse cx="192.3" cy="764.8" rx="81.3" ry="17.8" fill="#a0f000"/><ellipse cx="192.3" cy="763.9" rx="81.3" ry="17.8" fill="#a0f000"/><ellipse cx="192.3" cy="763" rx="81.3" ry="17.8" fill="#a0f000"/><ellipse cx="192.3" cy="762.1" rx="81.3" ry="17.8" fill="#a0f000"/><ellipse cx="192.3" cy="761.2" rx="81.3" ry="17.8" fill="#a0f000"/><ellipse cx="192.3" cy="760.3" rx="81.3" ry="17.8" fill="#a9ef00"/><ellipse cx="192.3" cy="759.4" rx="81.3" ry="17.8" fill="#b2ed00"/><ellipse cx="192.3" cy="758.5" rx="81.3" ry="17.8" fill="#baec00"/><ellipse cx="192.3" cy="757.6" rx="81.3" ry="17.8" fill="#c3ea00"/><ellipse cx="192.3" cy="756.7" rx="81.3" ry="17.8" fill="#cbe900"/><ellipse cx="192.3" cy="755.8" rx="81.3" ry="17.8" fill="#d2e800"/><ellipse cx="192.3" cy="754.9" rx="81.3" ry="17.8" fill="#d8e600"/><ellipse cx="192.3" cy="754" rx="81.3" ry="17.8" fill="#dde500"/><ellipse cx="192.3" cy="753.1" rx="81.3" ry="17.8" fill="#e2e400"/><ellipse cx="192.3" cy="752.2" rx="81.3" ry="17.8" fill="#e7e300"/><ellipse cx="192.3" cy="751.3" rx="81.3" ry="17.8" fill="#ece200"/><ellipse cx="192.3" cy="750.4" rx="81.3" ry="17.8" fill="#f1e100"/><ellipse cx="192.3" cy="749.5" rx="81.3" ry="17.8" fill="#f6e000"/><ellipse cx="192.3" cy="748.6" rx="81.3" ry="17.8" fill="#f9df00"/><ellipse cx="192.3" cy="747.7" rx="81.3" ry="17.8" fill="#fadd00"/><ellipse cx="192.3" cy="746.8" rx="81.3" ry="17.8" fill="#fbdb00"/><ellipse cx="192.3" cy="745.9" rx="81.3" ry="17.8" fill="#fcd900"/><ellipse cx="192.3" cy="745" rx="81.3" ry="17.8" fill="#fdd800"/><ellipse cx="192.3" cy="744.1" rx="81.3" ry="17.8" fill="#fed600"/><ellipse cx="192.3" cy="743.2" rx="81.3" ry="17.8" fill="#ffd400"/><ellipse cx="192.3" cy="742.3" rx="81.3" ry="17.8" fill="#ffd000"/><ellipse cx="192.3" cy="741.4" rx="81.3" ry="17.8" fill="#ffcd00"/><ellipse cx="192.3" cy="740.5" rx="81.3" ry="17.8" fill="#ffc900"/><ellipse cx="192.3" cy="739.6" rx="81.3" ry="17.8" fill="#ffc500"/><ellipse cx="192.3" cy="738.7" rx="81.3" ry="17.8" fill="#ffc200"/><ellipse cx="192.3" cy="737.8" rx="81.3" ry="17.8" fill="#ffbe00"/><ellipse cx="192.3" cy="736.9" rx="81.3" ry="17.8" fill="#ffbb00"/><ellipse cx="192.3" cy="736" rx="81.3" ry="17.8" fill="#ffb700"/><ellipse cx="192.3" cy="735.1" rx="81.3" ry="17.8" fill="#ffb300"/><ellipse cx="192.3" cy="734.2" rx="81.3" ry="17.8" fill="#ffb000"/><ellipse cx="192.3" cy="733.3" rx="81.3" ry="17.8" fill="#ffad00"/><ellipse cx="192.3" cy="732.4" rx="81.3" ry="17.8" fill="#ffaa00"/><ellipse cx="192.3" cy="731.5" rx="81.3" ry="17.8" fill="#ffa700"/><ellipse cx="192.3" cy="730.6" rx="81.3" ry="17.8" fill="#ffa400"/><ellipse cx="192.3" cy="729.7" rx="81.3" ry="17.8" fill="#ffa200"/><ellipse cx="192.3" cy="728.8" rx="81.3" ry="17.8" fill="#ff9f00"/><ellipse cx="192.3" cy="727.9" rx="81.3" ry="17.8" fill="#ff9c00"/><ellipse cx="192.3" cy="727" rx="81.3" ry="17.8" fill="#ff9900"/><ellipse cx="192.3" cy="726.1" rx="81.3" ry="17.8" fill="#ff9600"/><ellipse cx="192.3" cy="725.2" rx="81.3" ry="17.8" fill="#ff9300"/><ellipse cx="192.3" cy="724.3" rx="81.3" ry="17.8" fill="#ff9000"/><ellipse cx="192.3" cy="723.4" rx="81.3" ry="17.8" fill="#ff8d00"/><ellipse cx="192.3" cy="722.5" rx="81.3" ry="17.8" fill="#ff8b00"/><ellipse cx="192.3" cy="721.6" rx="81.3" ry="17.8" fill="#ff8800"/><ellipse cx="192.3" cy="720.7" rx="81.3" ry="17.8" fill="#ff8500"/><ellipse cx="192.3" cy="719.8" rx="81.3" ry="17.8" fill="#ff8200"/><ellipse cx="192.3" cy="718.9" rx="81.3" ry="17.8" fill="#ff7f00"/><ellipse cx="192.3" cy="718" rx="81.3" ry="17.8" fill="#ff7c00"/><ellipse cx="192.3" cy="717.1" rx="81.3" ry="17.8" fill="#ff7900"/><ellipse cx="192.3" cy="716.2" rx="81.3" ry="17.8" fill="#ff7700"/><ellipse cx="192.3" cy="715.3" rx="81.3" ry="17.8" fill="#ff7400"/><ellipse cx="192.3" cy="714.4" rx="81.3" ry="17.8" fill="#ff7100"/><ellipse cx="192.3" cy="713.5" rx="81.3" ry="17.8" fill="#ff6e00"/><ellipse cx="192.3" cy="712.6" rx="81.3" ry="17.8" fill="#ff6b00"/><ellipse cx="192.3" cy="711.7" rx="81.3" ry="17.8" fill="#ff6800"/><ellipse cx="192.3" cy="710.8" rx="81.3" ry="17.8" fill="#ff6600"/><ellipse cx="192.3" cy="709.9" rx="81.3" ry="17.8" fill="#ff6300"/><ellipse cx="192.3" cy="709" rx="81.3" ry="17.8" fill="#ff6000"/><ellipse cx="192.3" cy="708.1" rx="81.3" ry="17.8" fill="#ff5d00"/><ellipse cx="192.3" cy="707.2" rx="81.3" ry="17.8" fill="#ff5a00"/><ellipse cx="192.3" cy="706.3" rx="81.3" ry="17.8" fill="#ff5700"/><ellipse cx="192.3" cy="705.4" rx="81.3" ry="17.8" fill="#ff5500"/><ellipse cx="192.3" cy="704.5" rx="81.3" ry="17.8" fill="#ff5200"/><ellipse cx="192.3" cy="703.6" rx="81.3" ry="17.8" fill="#ff5000"/><ellipse cx="192.3" cy="702.7" rx="81.3" ry="17.8" fill="#ff4d00"/><ellipse cx="192.3" cy="701.8" rx="81.3" ry="17.8" fill="#ff4b00"/><ellipse cx="192.3" cy="700.9" rx="81.3" ry="17.8" fill="#ff4900"/><ellipse cx="192.3" cy="700" rx="81.3" ry="17.8" fill="#ff4600"/><ellipse cx="192.3" cy="699.1" rx="81.3" ry="17.8" fill="#ff4400"/><ellipse cx="192.3" cy="698.2" rx="81.3" ry="17.8" fill="#ff4200"/><ellipse cx="192.3" cy="697.3" rx="81.3" ry="17.8" fill="#ff3f00"/><ellipse cx="192.3" cy="696.4" rx="81.3" ry="17.8" fill="#ff3d00"/><ellipse cx="192.3" cy="695.5" rx="81.3" ry="17.8" fill="#ff3b00"/><ellipse cx="192.3" cy="694.6" rx="81.3" ry="17.8" fill="#ff3800"/><ellipse cx="192.3" cy="693.7" rx="81.3" ry="17.8" fill="#ff3600"/><ellipse cx="192.3" cy="692.8" rx="81.3" ry="17.8" fill="#ff3400"/><ellipse cx="192.3" cy="691.9" rx="81.3" ry="17.8" fill="#ff3100"/><ellipse cx="192.3" cy="691" rx="81.3" ry="17.8" fill="#ff2f00"/><ellipse cx="192.3" cy="690.1" rx="81.3" ry="17.8" fill="#ff2d00"/><ellipse cx="192.3" cy="689.2" rx="81.3" ry="17.8" fill="#ff2a00"/><ellipse cx="192.3" cy="688.3" rx="81.3" ry="17.8" fill="#ff2800"/><ellipse cx="192.3" cy="687.4" rx="81.3" ry="17.8" fill="#ff2600"/><ellipse cx="192.3" cy="686.5" rx="81.3" ry="17.8" fill="#ff2300"/><ellipse cx="192.3" cy="685.6" rx="81.3" ry="17.8" fill="#ff2100"/><ellipse cx="192.3" cy="684.7" rx="81.3" ry="17.8" fill="#ff1f00"/><ellipse cx="192.3" cy="683.8" rx="81.3" ry="17.8" fill="#ff1e00"/><ellipse cx="192.3" cy="682.9" rx="81.3" ry="17.8" fill="#ff1d00"/><ellipse cx="192.3" cy="682" rx="81.3" ry="17.8" fill="#ff1c00"/><ellipse cx="192.3" cy="681.1" rx="81.3" ry="17.8" fill="#ff1a00"/><ellipse cx="192.3" cy="680.2" rx="81.3" ry="17.8" fill="#ff1900"/><ellipse cx="192.3" cy="679.3" rx="81.3" ry="17.8" fill="#ff1800"/><ellipse cx="192.3" cy="678.4" rx="81.3" ry="17.8" fill="#ff1700"/><ellipse cx="192.3" cy="677.5" rx="81.3" ry="17.8" fill="#ff1600"/><ellipse cx="192.3" cy="676.6" rx="81.3" ry="17.8" fill="#ff1400"/><ellipse cx="192.3" cy="675.7" rx="81.3" ry="17.8" fill="#ff1300"/><ellipse cx="192.3" cy="674.8" rx="81.3" ry="17.8" fill="#ff1200"/><ellipse cx="192.3" cy="673.9" rx="81.3" ry="17.8" fill="#ff1100"/><ellipse cx="192.3" cy="673" rx="81.3" ry="17.8" fill="#ff1000"/><ellipse cx="192.3" cy="672.1" rx="81.3" ry="17.8" fill="#ff0e00"/><ellipse cx="192.3" cy="671.2" rx="81.3" ry="17.8" fill="#ff0d00"/><ellipse cx="192.3" cy="670.3" rx="81.3" ry="17.8" fill="#ff0c00"/><ellipse cx="192.3" cy="669.4" rx="81.3" ry="17.8" fill="#ff0b00"/><ellipse cx="192.3" cy="668.5" rx="81.3" ry="17.8" fill="#ff0a00"/><ellipse cx="192.3" cy="667.6" rx="81.3" ry="17.8" fill="#ff0800"/><ellipse cx="192.3" cy="666.7" rx="81.3" ry="17.8" fill="#ff0800"/><ellipse cx="192.3" cy="665.8" rx="81.3" ry="17.8" fill="#ff0800"/><ellipse cx="192.3" cy="664.9" rx="81.3" ry="17.8" fill="#ff0700"/><ellipse cx="192.3" cy="664" rx="81.3" ry="17.8" fill="#ff0700"/><ellipse cx="192.3" cy="663.1" rx="81.3" ry="17.8" fill="#ff0700"/><ellipse cx="192.3" cy="662.2" rx="81.3" ry="17.8" fill="#ff0600"/><ellipse cx="192.3" cy="661.3" rx="81.3" ry="17.8" fill="#ff0600"/><ellipse cx="192.3" cy="660.4" rx="81.3" ry="17.8" fill="#ff0600"/><ellipse cx="192.3" cy="659.5" rx="81.3" ry="17.8" fill="#ff0500"/><ellipse cx="192.3" cy="658.6" rx="81.3" ry="17.8" fill="#ff0500"/><ellipse cx="192.3" cy="657.7" rx="81.3" ry="17.8" fill="#ff0500"/><ellipse cx="192.3" cy="656.8" rx="81.3" ry="17.8" fill="#ff0500"/><ellipse cx="192.3" cy="655.9" rx="81.3" ry="17.8" fill="#ff0400"/><ellipse cx="192.3" cy="655" rx="81.3" ry="17.8" fill="#ff0400"/><ellipse cx="192.3" cy="654.1" rx="81.3" ry="17.8" fill="#ff0400"/><ellipse cx="192.3" cy="653.2" rx="81.3" ry="17.8" fill="#ff0300"/><ellipse cx="192.3" cy="652.3" rx="81.3" ry="17.8" fill="#ff0300"/><ellipse cx="192.3" cy="651.4" rx="81.3" ry="17.8" fill="#ff0300"/><ellipse cx="192.3" cy="650.5" rx="81.3" ry="17.8" fill="#ff0200"/><ellipse cx="192.3" cy="649.6" rx="81.3" ry="17.8" fill="#ff0200"/><ellipse cx="192.3" cy="648.7" rx="81.3" ry="17.8" fill="#ff0200"/><ellipse cx="192.3" cy="647.8" rx="81.3" ry="17.8" fill="#ff0200"/><ellipse cx="192.3" cy="646.9" rx="81.3" ry="17.8" fill="#ff0100"/><ellipse cx="192.3" cy="646" rx="81.3" ry="17.8" fill="#ff0100"/><ellipse cx="192.3" cy="645.1" rx="81.3" ry="17.8" fill="#ff0100"/><ellipse cx="192.3" cy="644.2" rx="81.3" ry="17.8" fill="#ff0000"/><ellipse cx="192.3" cy="643.3" rx="81.3" ry="17.8" fill="#ff0000"/><ellipse cx="192.3" cy="642.4" rx="81.3" ry="17.8" fill="#ff0000"/><ellipse cx="192.3" cy="641.5" rx="81.3" ry="17.8" fill="#ff0000"/><ellipse cx="192.3" cy="640.6" rx="81.3" ry="17.8" fill="#ff0000"/><ellipse cx="192.3" cy="639.7" rx="81.3" ry="17.8" fill="#ff0000"/><ellipse cx="192.3" cy="638.8" rx="81.3" ry="17.8" fill="#ff0000"/><ellipse cx="192.3" cy="637.9" rx="81.3" ry="17.8" fill="#ff0000"/><ellipse cx="192.3" cy="637" rx="81.3" ry="17.8" fill="#ff0000"/><ellipse cx="192.3" cy="636.1" rx="81.3" ry="17.8" fill="#ff0000"/><ellipse cx="192.3" cy="635.2" rx="81.3" ry="17.8" fill="#ff0000"/><ellipse cx="192.3" cy="634.3" rx="81.3" ry="17.8" fill="#ff0000"/><ellipse cx="192.3" cy="633.4" rx="81.3" ry="17.8" fill="#ff0000"/><ellipse cx="192.3" cy="632.5" rx="81.3" ry="17.8" fill="#ff0000"/><ellipse cx="192.3" cy="631.6" rx="81.3" ry="17.8" fill="#ff0000"/></g>
<g clip-path="url(#cf)"><ellipse cx="192.3" cy="714.7" rx="71.7" ry="65.3" fill="url(#rim)" opacity="1"/><ellipse cx="192" cy="672" rx="26" ry="20" fill="url(#hl)" opacity="1"/><ellipse cx="165" cy="726" rx="24" ry="24" fill="url(#hl)" opacity="1"/><ellipse cx="225" cy="726" rx="24" ry="24" fill="url(#hl)" opacity="1"/></g>
<path d="M300.2 738L299.9 742.6L298.9 747.1L297.2 751.5L295 755.9L292 760.2L288.5 764.3L284.4 768.3L279.7 772.1L274.5 775.7L268.8 779L262.6 782.1L256 784.9L249 787.5L241.7 789.7L234 791.6L226.1 793.2L218 794.4L209.8 795.3L201.4 795.8L193 796L184.6 795.8L176.2 795.3L168 794.4L159.9 793.2L152 791.6L144.3 789.7L137 787.5L130 784.9L123.4 782.1L117.2 779L111.5 775.7L106.3 772.1L101.6 768.3L97.5 764.3L94 760.2L91 755.9L88.8 751.5L87.1 747.1L86.1 742.6L85.8 738M193 829.5L202.6 830.8L212 831.3L221.3 830.9L230.4 829.7L239.1 827.8L247.4 825L255.3 821.5L262.6 817.2L269.2 812.2L275.3 806.6L280.5 800.4L285.1 793.6L288.8 786.4L291.6 778.7L293.6 770.7L294.8 762.3L295 753.8L294.3 745.1L292.7 736.4L290.3 727.7L287 719L282.9 710.5L277.9 702.3L272.3 694.4L265.9 686.9L258.9 679.8L251.3 673.2L243.2 667.2L234.7 661.8L225.8 657.1L216.6 653.1L207.2 649.9L197.7 647.4L188.1 645.7L178.6 644.9L169.2 644.8L160 645.6L151.1 647.2L142.6 649.6L134.5 652.7" fill="none" stroke="#4a3a3a" stroke-opacity="0.6" stroke-width="0.7"/>
<line x1="170" y1="775" x2="158" y2="797" stroke="#9a8a5a" stroke-width="0.6"/><line x1="158" y1="797" x2="152" y2="796" stroke="#8a8a8a" stroke-width="0.8"/><line x1="259" y1="750" x2="295" y2="756" stroke="#555" stroke-width="0.9"/><line x1="193" y1="645" x2="193" y2="662" stroke="#333" stroke-width="0.9"/>
<g font-family='"Liberation Sans", sans-serif' font-size="10.5" fill="#141414" stroke="#141414" stroke-width="0.15"><text x="192.7" y="630" textLength="64" lengthAdjust="spacingAndGlyphs">dB(GainTotal)</text><text x="198.7" y="640">0</text><text x="202.7" y="646" textLength="51" lengthAdjust="spacingAndGlyphs">Theta (deg)</text><text x="195.5" y="648.3" textLength="7.5" lengthAdjust="spacingAndGlyphs">-5</text><text x="99" y="772.3" textLength="16" lengthAdjust="spacingAndGlyphs">120</text><text x="161.7" y="799">0</text><text x="165.7" y="799" textLength="40.6" lengthAdjust="spacingAndGlyphs">Phi (deg)</text><text x="296" y="757.7">-5</text><text x="315.7" y="761" textLength="64" lengthAdjust="spacingAndGlyphs">dB(GainTotal)</text><text x="307.3" y="727.3" textLength="16" lengthAdjust="spacingAndGlyphs">120</text><text x="288.7" y="806" textLength="16" lengthAdjust="spacingAndGlyphs">120</text></g>
<path d="M489.6 738L489.9 733.4L490.9 728.8L492.6 724.2L494.9 719.8L497.8 715.4L501.3 711.2L505.4 707.2L510.1 703.3L515.3 699.7L521.1 696.3L527.2 693.1L533.9 690.3L540.9 687.7L548.2 685.4L555.9 683.5L563.8 681.9L571.9 680.6L580.2 679.7L588.6 679.2L597 679L605.4 679.2L613.8 679.7L622.1 680.6L630.2 681.9L638.1 683.5L645.8 685.4L653.1 687.7L660.1 690.3L666.8 693.1L672.9 696.3L678.7 699.7L683.9 703.3L688.6 707.2L692.7 711.2L696.2 715.4L699.1 719.8L701.4 724.2L703.1 728.8L704.1 733.4L704.4 738M538.2 653.4L533 655.8L528 658.6L523.4 661.7L519 665.1L514.9 668.8L511.2 672.8L507.8 677L504.8 681.5L502.1 686.2L499.8 691.1L498 696.2L496.5 701.4L495.4 706.8L494.7 712.4L494.4 718L494.5 723.7L495.1 729.5L496 735.3L497.4 741.1L499.1 746.9L501.3 752.7L503.8 758.4L506.7 764.1L510 769.6L513.6 775L517.5 780.2L521.8 785.3L526.4 790.2L531.2 794.9L536.3 799.3L541.7 803.6L547.3 807.5L553 811.2L559 814.6L565.1 817.6L571.3 820.4L577.6 822.8L584.1 824.9L590.5 826.6L597 828" fill="none" stroke="#8e8e8e" stroke-width="0.7"/><line x1="617" y1="735.8" x2="709" y2="726" stroke="#c4c4c4" stroke-width="0.8"/><line x1="617" y1="752" x2="691" y2="804" stroke="#c4c4c4" stroke-width="0.8"/><line x1="577" y1="745" x2="519" y2="765" stroke="#c4c4c4" stroke-width="0.8"/>
<g font-family='"Liberation Sans", sans-serif' font-size="10.5" fill="#141414" stroke="#141414" stroke-width="0.15"><text x="519.3" y="693.3" textLength="16" lengthAdjust="spacingAndGlyphs">240</text><text x="655" y="749">-7.5</text></g>
<g clip-path="url(#cgl)"><ellipse cx="598" cy="805.5" rx="67.8" ry="13.8" fill="#ff9800"/><ellipse cx="598" cy="804.6" rx="67.8" ry="13.8" fill="#ff9800"/><ellipse cx="598" cy="803.7" rx="67.8" ry="13.8" fill="#ff9800"/><ellipse cx="598" cy="802.8" rx="67.8" ry="13.8" fill="#ff9800"/><ellipse cx="598" cy="801.9" rx="67.8" ry="13.8" fill="#ff9800"/><ellipse cx="598" cy="801" rx="67.8" ry="13.8" fill="#ff9800"/><ellipse cx="598" cy="800.1" rx="67.8" ry="13.8" fill="#ff9800"/><ellipse cx="598" cy="799.2" rx="67.8" ry="13.8" fill="#ff9800"/><ellipse cx="598" cy="798.3" rx="67.8" ry="13.8" fill="#ff9800"/><ellipse cx="598" cy="797.4" rx="67.8" ry="13.8" fill="#ff9800"/><ellipse cx="598" cy="796.5" rx="67.8" ry="13.8" fill="#ff9800"/><ellipse cx="598" cy="795.6" rx="67.8" ry="13.8" fill="#fba500"/><ellipse cx="598" cy="794.7" rx="67.8" ry="13.8" fill="#f4b900"/><ellipse cx="598" cy="793.8" rx="67.8" ry="13.8" fill="#edc800"/><ellipse cx="598" cy="792.9" rx="67.8" ry="13.8" fill="#e6d200"/><ellipse cx="598" cy="792" rx="67.8" ry="13.8" fill="#dedb00"/><ellipse cx="598" cy="791.1" rx="67.8" ry="13.8" fill="#d8e400"/><ellipse cx="598" cy="790.2" rx="67.8" ry="13.8" fill="#d3e500"/><ellipse cx="598" cy="789.3" rx="67.8" ry="13.8" fill="#cfe700"/><ellipse cx="598" cy="788.4" rx="67.8" ry="13.8" fill="#cbe800"/><ellipse cx="598" cy="787.5" rx="67.8" ry="13.8" fill="#c7e900"/><ellipse cx="598" cy="786.6" rx="67.8" ry="13.8" fill="#c3ea00"/><ellipse cx="598" cy="785.7" rx="67.8" ry="13.8" fill="#beeb00"/><ellipse cx="598" cy="784.8" rx="67.8" ry="13.8" fill="#bbec00"/><ellipse cx="598" cy="783.9" rx="67.8" ry="13.8" fill="#b8ed00"/><ellipse cx="598" cy="783" rx="67.8" ry="13.8" fill="#b5ee00"/><ellipse cx="598" cy="782.1" rx="67.8" ry="13.8" fill="#b2ef00"/><ellipse cx="598" cy="781.2" rx="67.8" ry="13.8" fill="#b0f000"/><ellipse cx="598" cy="780.3" rx="67.8" ry="13.8" fill="#adf000"/><ellipse cx="598" cy="779.4" rx="67.8" ry="13.8" fill="#aaf100"/><ellipse cx="598" cy="778.5" rx="67.8" ry="13.8" fill="#a7f200"/><ellipse cx="598" cy="777.6" rx="67.8" ry="13.8" fill="#a4f300"/><ellipse cx="598" cy="776.7" rx="67.8" ry="13.8" fill="#a2f400"/><ellipse cx="598" cy="775.8" rx="67.8" ry="13.8" fill="#9ff400"/><ellipse cx="598" cy="774.9" rx="67.8" ry="13.8" fill="#9df500"/><ellipse cx="598" cy="774" rx="67.8" ry="13.8" fill="#9af500"/><ellipse cx="598" cy="773.1" rx="67.8" ry="13.8" fill="#98f500"/><ellipse cx="598" cy="772.2" rx="67.8" ry="13.8" fill="#95f600"/><ellipse cx="598" cy="771.3" rx="67.8" ry="13.8" fill="#93f600"/><ellipse cx="598" cy="770.4" rx="67.8" ry="13.8" fill="#91f700"/><ellipse cx="598" cy="769.5" rx="67.8" ry="13.8" fill="#8ef700"/><ellipse cx="598" cy="768.6" rx="67.8" ry="13.8" fill="#8cf700"/><ellipse cx="598" cy="767.7" rx="67.8" ry="13.8" fill="#89f800"/><ellipse cx="598" cy="766.8" rx="67.8" ry="13.8" fill="#88f800"/><ellipse cx="598" cy="765.9" rx="67.8" ry="13.8" fill="#88f800"/><ellipse cx="598" cy="765" rx="67.8" ry="13.8" fill="#88f800"/><ellipse cx="598" cy="764.1" rx="67.8" ry="13.8" fill="#88f800"/><ellipse cx="598" cy="763.2" rx="67.8" ry="13.8" fill="#88f800"/><ellipse cx="598" cy="762.3" rx="67.8" ry="13.8" fill="#88f800"/><ellipse cx="598" cy="761.4" rx="67.8" ry="13.8" fill="#88f800"/><ellipse cx="598" cy="760.5" rx="67.8" ry="13.8" fill="#88f800"/><ellipse cx="598" cy="759.6" rx="67.8" ry="13.8" fill="#88f800"/><ellipse cx="598" cy="758.7" rx="67.8" ry="13.8" fill="#88f800"/><ellipse cx="598" cy="757.8" rx="67.8" ry="13.8" fill="#88f800"/><ellipse cx="598" cy="756.9" rx="67.8" ry="13.8" fill="#88f800"/><ellipse cx="598" cy="756" rx="67.8" ry="13.8" fill="#88f800"/><ellipse cx="598" cy="755.1" rx="67.8" ry="13.8" fill="#88f800"/><ellipse cx="598" cy="754.2" rx="67.8" ry="13.8" fill="#88f800"/><ellipse cx="598" cy="753.3" rx="67.8" ry="13.8" fill="#88f800"/><ellipse cx="598" cy="752.4" rx="67.8" ry="13.8" fill="#88f800"/><ellipse cx="598" cy="751.5" rx="67.8" ry="13.8" fill="#88f800"/><ellipse cx="598" cy="750.6" rx="67.8" ry="13.8" fill="#88f800"/><ellipse cx="598" cy="749.7" rx="67.8" ry="13.8" fill="#88f800"/><ellipse cx="598" cy="748.8" rx="67.8" ry="13.8" fill="#88f800"/><ellipse cx="598" cy="747.9" rx="67.8" ry="13.8" fill="#88f800"/><ellipse cx="598" cy="747" rx="67.8" ry="13.8" fill="#88f800"/><ellipse cx="598" cy="746.1" rx="67.8" ry="13.8" fill="#88f800"/><ellipse cx="598" cy="745.2" rx="67.8" ry="13.8" fill="#88f800"/><ellipse cx="598" cy="744.3" rx="67.8" ry="13.8" fill="#88f800"/><ellipse cx="598" cy="743.4" rx="67.8" ry="13.8" fill="#88f800"/><ellipse cx="598" cy="742.5" rx="67.8" ry="13.8" fill="#88f800"/><ellipse cx="598" cy="741.6" rx="67.8" ry="13.8" fill="#88f800"/><ellipse cx="598" cy="740.7" rx="67.8" ry="13.8" fill="#88f800"/><ellipse cx="598" cy="739.8" rx="67.8" ry="13.8" fill="#88f800"/><ellipse cx="598" cy="738.9" rx="67.8" ry="13.8" fill="#88f800"/><ellipse cx="598" cy="738" rx="67.8" ry="13.8" fill="#88f800"/><ellipse cx="598" cy="737.1" rx="67.8" ry="13.8" fill="#88f800"/><ellipse cx="598" cy="736.2" rx="67.8" ry="13.8" fill="#88f800"/><ellipse cx="598" cy="735.3" rx="67.8" ry="13.8" fill="#88f800"/><ellipse cx="598" cy="734.4" rx="67.8" ry="13.8" fill="#88f800"/><ellipse cx="598" cy="733.5" rx="67.8" ry="13.8" fill="#88f800"/><ellipse cx="598" cy="732.6" rx="67.8" ry="13.8" fill="#88f800"/><ellipse cx="598" cy="731.7" rx="67.8" ry="13.8" fill="#88f800"/><ellipse cx="598" cy="730.8" rx="67.8" ry="13.8" fill="#88f800"/><ellipse cx="598" cy="729.9" rx="67.8" ry="13.8" fill="#88f800"/><ellipse cx="598" cy="729" rx="67.8" ry="13.8" fill="#88f800"/><ellipse cx="598" cy="728.1" rx="67.8" ry="13.8" fill="#88f800"/><ellipse cx="598" cy="727.2" rx="67.8" ry="13.8" fill="#88f800"/><ellipse cx="598" cy="726.3" rx="67.8" ry="13.8" fill="#88f800"/><ellipse cx="598" cy="725.4" rx="67.8" ry="13.8" fill="#88f800"/><ellipse cx="592" cy="782" rx="40" ry="11" fill="url(#gb)"/></g>
<g clip-path="url(#cgu)"><ellipse cx="596.5" cy="778.9" rx="82.2" ry="17.8" fill="#60fc00"/><ellipse cx="596.5" cy="778" rx="82.2" ry="17.8" fill="#60fc00"/><ellipse cx="596.5" cy="777.1" rx="82.2" ry="17.8" fill="#60fc00"/><ellipse cx="596.5" cy="776.2" rx="82.2" ry="17.8" fill="#60fc00"/><ellipse cx="596.5" cy="775.3" rx="82.2" ry="17.8" fill="#60fc00"/><ellipse cx="596.5" cy="774.4" rx="82.2" ry="17.8" fill="#60fc00"/><ellipse cx="596.5" cy="773.5" rx="82.2" ry="17.8" fill="#60fc00"/><ellipse cx="596.5" cy="772.6" rx="82.2" ry="17.8" fill="#60fc00"/><ellipse cx="596.5" cy="771.7" rx="82.2" ry="17.8" fill="#60fc00"/><ellipse cx="596.5" cy="770.8" rx="82.2" ry="17.8" fill="#60fc00"/><ellipse cx="596.5" cy="769.9" rx="82.2" ry="17.8" fill="#60fc00"/><ellipse cx="596.5" cy="769" rx="82.2" ry="17.8" fill="#60fc00"/><ellipse cx="596.5" cy="768.1" rx="82.2" ry="17.8" fill="#60fc00"/><ellipse cx="596.5" cy="767.2" rx="82.2" ry="17.8" fill="#60fc00"/><ellipse cx="596.5" cy="766.3" rx="82.2" ry="17.8" fill="#60fc00"/><ellipse cx="596.5" cy="765.4" rx="82.2" ry="17.8" fill="#60fc00"/><ellipse cx="596.5" cy="764.5" rx="82.2" ry="17.8" fill="#60fc00"/><ellipse cx="596.5" cy="763.6" rx="82.2" ry="17.8" fill="#60fc00"/><ellipse cx="596.5" cy="762.7" rx="82.2" ry="17.8" fill="#67fa00"/><ellipse cx="596.5" cy="761.8" rx="82.2" ry="17.8" fill="#74f800"/><ellipse cx="596.5" cy="760.9" rx="82.2" ry="17.8" fill="#81f500"/><ellipse cx="596.5" cy="760" rx="82.2" ry="17.8" fill="#8df200"/><ellipse cx="596.5" cy="759.1" rx="82.2" ry="17.8" fill="#9aef00"/><ellipse cx="596.5" cy="758.2" rx="82.2" ry="17.8" fill="#a6ec00"/><ellipse cx="596.5" cy="757.3" rx="82.2" ry="17.8" fill="#b3e800"/><ellipse cx="596.5" cy="756.4" rx="82.2" ry="17.8" fill="#c0e500"/><ellipse cx="596.5" cy="755.5" rx="82.2" ry="17.8" fill="#cce100"/><ellipse cx="596.5" cy="754.6" rx="82.2" ry="17.8" fill="#d5de00"/><ellipse cx="596.5" cy="753.7" rx="82.2" ry="17.8" fill="#dbdb00"/><ellipse cx="596.5" cy="752.8" rx="82.2" ry="17.8" fill="#e1d800"/><ellipse cx="596.5" cy="751.9" rx="82.2" ry="17.8" fill="#e8d500"/><ellipse cx="596.5" cy="751" rx="82.2" ry="17.8" fill="#eed200"/><ellipse cx="596.5" cy="750.1" rx="82.2" ry="17.8" fill="#f4d000"/><ellipse cx="596.5" cy="749.2" rx="82.2" ry="17.8" fill="#f6ce00"/><ellipse cx="596.5" cy="748.3" rx="82.2" ry="17.8" fill="#f7cd00"/><ellipse cx="596.5" cy="747.4" rx="82.2" ry="17.8" fill="#f8cb00"/><ellipse cx="596.5" cy="746.5" rx="82.2" ry="17.8" fill="#faca00"/><ellipse cx="596.5" cy="745.6" rx="82.2" ry="17.8" fill="#fbc800"/><ellipse cx="596.5" cy="744.7" rx="82.2" ry="17.8" fill="#fdc700"/><ellipse cx="596.5" cy="743.8" rx="82.2" ry="17.8" fill="#fec500"/><ellipse cx="596.5" cy="742.9" rx="82.2" ry="17.8" fill="#ffc300"/><ellipse cx="596.5" cy="742" rx="82.2" ry="17.8" fill="#ffc100"/><ellipse cx="596.5" cy="741.1" rx="82.2" ry="17.8" fill="#ffbf00"/><ellipse cx="596.5" cy="740.2" rx="82.2" ry="17.8" fill="#ffbd00"/><ellipse cx="596.5" cy="739.3" rx="82.2" ry="17.8" fill="#ffbc00"/><ellipse cx="596.5" cy="738.4" rx="82.2" ry="17.8" fill="#ffba00"/><ellipse cx="596.5" cy="737.5" rx="82.2" ry="17.8" fill="#ffb800"/><ellipse cx="596.5" cy="736.6" rx="82.2" ry="17.8" fill="#ffb600"/><ellipse cx="596.5" cy="735.7" rx="82.2" ry="17.8" fill="#ffb400"/><ellipse cx="596.5" cy="734.8" rx="82.2" ry="17.8" fill="#ffb200"/><ellipse cx="596.5" cy="733.9" rx="82.2" ry="17.8" fill="#ffb000"/><ellipse cx="596.5" cy="733" rx="82.2" ry="17.8" fill="#ffae00"/><ellipse cx="596.5" cy="732.1" rx="82.2" ry="17.8" fill="#ffac00"/><ellipse cx="596.5" cy="731.2" rx="82.2" ry="17.8" fill="#ffaa00"/><ellipse cx="596.5" cy="730.3" rx="82.2" ry="17.8" fill="#ffa800"/><ellipse cx="596.5" cy="729.4" rx="82.2" ry="17.8" fill="#ffa600"/><ellipse cx="596.5" cy="728.5" rx="82.2" ry="17.8" fill="#ffa300"/><ellipse cx="596.5" cy="727.6" rx="82.2" ry="17.8" fill="#ffa100"/><ellipse cx="596.5" cy="726.7" rx="82.2" ry="17.8" fill="#ff9f00"/><ellipse cx="596.5" cy="725.8" rx="82.2" ry="17.8" fill="#ff9c00"/><ellipse cx="596.5" cy="724.9" rx="82.2" ry="17.8" fill="#ff9a00"/><ellipse cx="596.5" cy="724" rx="82.2" ry="17.8" fill="#ff9700"/><ellipse cx="596.5" cy="723.1" rx="82.2" ry="17.8" fill="#ff9500"/><ellipse cx="596.5" cy="722.2" rx="82.2" ry="17.8" fill="#ff9300"/><ellipse cx="596.5" cy="721.3" rx="82.2" ry="17.8" fill="#ff9000"/><ellipse cx="596.5" cy="720.4" rx="82.2" ry="17.8" fill="#ff8e00"/><ellipse cx="596.5" cy="719.5" rx="82.2" ry="17.8" fill="#ff8b00"/><ellipse cx="596.5" cy="718.6" rx="82.2" ry="17.8" fill="#ff8900"/><ellipse cx="596.5" cy="717.7" rx="82.2" ry="17.8" fill="#ff8600"/><ellipse cx="596.5" cy="716.8" rx="82.2" ry="17.8" fill="#ff8400"/><ellipse cx="596.5" cy="715.9" rx="82.2" ry="17.8" fill="#ff8100"/><ellipse cx="596.5" cy="715" rx="82.2" ry="17.8" fill="#ff7e00"/><ellipse cx="596.5" cy="714.1" rx="82.2" ry="17.8" fill="#ff7b00"/><ellipse cx="596.5" cy="713.2" rx="82.2" ry="17.8" fill="#ff7900"/><ellipse cx="596.5" cy="712.3" rx="82.2" ry="17.8" fill="#ff7600"/><ellipse cx="596.5" cy="711.4" rx="82.2" ry="17.8" fill="#ff7300"/><ellipse cx="596.5" cy="710.5" rx="82.2" ry="17.8" fill="#ff7000"/><ellipse cx="596.5" cy="709.6" rx="82.2" ry="17.8" fill="#ff6d00"/><ellipse cx="596.5" cy="708.7" rx="82.2" ry="17.8" fill="#ff6b00"/><ellipse cx="596.5" cy="707.8" rx="82.2" ry="17.8" fill="#ff6800"/><ellipse cx="596.5" cy="706.9" rx="82.2" ry="17.8" fill="#ff6500"/><ellipse cx="596.5" cy="706" rx="82.2" ry="17.8" fill="#ff6200"/><ellipse cx="596.5" cy="705.1" rx="82.2" ry="17.8" fill="#ff6000"/><ellipse cx="596.5" cy="704.2" rx="82.2" ry="17.8" fill="#ff5e00"/><ellipse cx="596.5" cy="703.3" rx="82.2" ry="17.8" fill="#ff5c00"/><ellipse cx="596.5" cy="702.4" rx="82.2" ry="17.8" fill="#ff5a00"/><ellipse cx="596.5" cy="701.5" rx="82.2" ry="17.8" fill="#ff5800"/><ellipse cx="596.5" cy="700.6" rx="82.2" ry="17.8" fill="#ff5600"/><ellipse cx="596.5" cy="699.7" rx="82.2" ry="17.8" fill="#ff5400"/><ellipse cx="596.5" cy="698.8" rx="82.2" ry="17.8" fill="#ff5200"/><ellipse cx="596.5" cy="697.9" rx="82.2" ry="17.8" fill="#ff5000"/><ellipse cx="596.5" cy="697" rx="82.2" ry="17.8" fill="#ff4e00"/><ellipse cx="596.5" cy="696.1" rx="82.2" ry="17.8" fill="#ff4c00"/><ellipse cx="596.5" cy="695.2" rx="82.2" ry="17.8" fill="#ff4a00"/><ellipse cx="596.5" cy="694.3" rx="82.2" ry="17.8" fill="#ff4800"/><ellipse cx="596.5" cy="693.4" rx="82.2" ry="17.8" fill="#ff4700"/><ellipse cx="596.5" cy="692.5" rx="82.2" ry="17.8" fill="#ff4500"/><ellipse cx="596.5" cy="691.6" rx="82.2" ry="17.8" fill="#ff4300"/><ellipse cx="596.5" cy="690.7" rx="82.2" ry="17.8" fill="#ff4100"/><ellipse cx="596.5" cy="689.8" rx="82.2" ry="17.8" fill="#ff3f00"/><ellipse cx="596.5" cy="688.9" rx="82.2" ry="17.8" fill="#ff3d00"/><ellipse cx="596.5" cy="688" rx="82.2" ry="17.8" fill="#ff3c00"/><ellipse cx="596.5" cy="687.1" rx="82.2" ry="17.8" fill="#ff3a00"/><ellipse cx="596.5" cy="686.2" rx="82.2" ry="17.8" fill="#ff3800"/><ellipse cx="596.5" cy="685.3" rx="82.2" ry="17.8" fill="#ff3600"/><ellipse cx="596.5" cy="684.4" rx="82.2" ry="17.8" fill="#ff3400"/><ellipse cx="596.5" cy="683.5" rx="82.2" ry="17.8" fill="#ff3300"/><ellipse cx="596.5" cy="682.6" rx="82.2" ry="17.8" fill="#ff3100"/><ellipse cx="596.5" cy="681.7" rx="82.2" ry="17.8" fill="#ff2f00"/><ellipse cx="596.5" cy="680.8" rx="82.2" ry="17.8" fill="#ff2d00"/><ellipse cx="596.5" cy="679.9" rx="82.2" ry="17.8" fill="#ff2b00"/><ellipse cx="596.5" cy="679" rx="82.2" ry="17.8" fill="#ff2a00"/><ellipse cx="596.5" cy="678.1" rx="82.2" ry="17.8" fill="#ff2800"/><ellipse cx="596.5" cy="677.2" rx="82.2" ry="17.8" fill="#ff2700"/><ellipse cx="596.5" cy="676.3" rx="82.2" ry="17.8" fill="#ff2600"/><ellipse cx="596.5" cy="675.4" rx="82.2" ry="17.8" fill="#ff2500"/><ellipse cx="596.5" cy="674.5" rx="82.2" ry="17.8" fill="#ff2300"/><ellipse cx="596.5" cy="673.6" rx="82.2" ry="17.8" fill="#ff2200"/><ellipse cx="596.5" cy="672.7" rx="82.2" ry="17.8" fill="#ff2100"/><ellipse cx="596.5" cy="671.8" rx="82.2" ry="17.8" fill="#ff2000"/><ellipse cx="596.5" cy="670.9" rx="82.2" ry="17.8" fill="#ff1e00"/><ellipse cx="596.5" cy="670" rx="82.2" ry="17.8" fill="#ff1d00"/><ellipse cx="596.5" cy="669.1" rx="82.2" ry="17.8" fill="#ff1c00"/><ellipse cx="596.5" cy="668.2" rx="82.2" ry="17.8" fill="#ff1a00"/><ellipse cx="596.5" cy="667.3" rx="82.2" ry="17.8" fill="#ff1900"/><ellipse cx="596.5" cy="666.4" rx="82.2" ry="17.8" fill="#ff1800"/><ellipse cx="596.5" cy="665.5" rx="82.2" ry="17.8" fill="#ff1700"/><ellipse cx="596.5" cy="664.6" rx="82.2" ry="17.8" fill="#ff1500"/><ellipse cx="596.5" cy="663.7" rx="82.2" ry="17.8" fill="#ff1400"/><ellipse cx="596.5" cy="662.8" rx="82.2" ry="17.8" fill="#ff1300"/><ellipse cx="596.5" cy="661.9" rx="82.2" ry="17.8" fill="#ff1200"/><ellipse cx="596.5" cy="661" rx="82.2" ry="17.8" fill="#ff1100"/><ellipse cx="596.5" cy="660.1" rx="82.2" ry="17.8" fill="#ff1100"/><ellipse cx="596.5" cy="659.2" rx="82.2" ry="17.8" fill="#ff1000"/><ellipse cx="596.5" cy="658.3" rx="82.2" ry="17.8" fill="#ff1000"/><ellipse cx="596.5" cy="657.4" rx="82.2" ry="17.8" fill="#ff1000"/><ellipse cx="596.5" cy="656.5" rx="82.2" ry="17.8" fill="#ff0f00"/><ellipse cx="596.5" cy="655.6" rx="82.2" ry="17.8" fill="#ff0f00"/><ellipse cx="596.5" cy="654.7" rx="82.2" ry="17.8" fill="#ff0e00"/><ellipse cx="596.5" cy="653.8" rx="82.2" ry="17.8" fill="#ff0e00"/><ellipse cx="596.5" cy="652.9" rx="82.2" ry="17.8" fill="#ff0d00"/><ellipse cx="596.5" cy="652" rx="82.2" ry="17.8" fill="#ff0d00"/><ellipse cx="596.5" cy="651.1" rx="82.2" ry="17.8" fill="#ff0c00"/><ellipse cx="596.5" cy="650.2" rx="82.2" ry="17.8" fill="#ff0c00"/><ellipse cx="596.5" cy="649.3" rx="82.2" ry="17.8" fill="#ff0c00"/><ellipse cx="596.5" cy="648.4" rx="82.2" ry="17.8" fill="#ff0b00"/><ellipse cx="596.5" cy="647.5" rx="82.2" ry="17.8" fill="#ff0b00"/><ellipse cx="596.5" cy="646.6" rx="82.2" ry="17.8" fill="#ff0a00"/><ellipse cx="596.5" cy="645.7" rx="82.2" ry="17.8" fill="#ff0a00"/><ellipse cx="596.5" cy="644.8" rx="82.2" ry="17.8" fill="#ff0900"/><ellipse cx="596.5" cy="643.9" rx="82.2" ry="17.8" fill="#ff0900"/><ellipse cx="596.5" cy="643" rx="82.2" ry="17.8" fill="#ff0800"/><ellipse cx="596.5" cy="642.1" rx="82.2" ry="17.8" fill="#ff0800"/><ellipse cx="596.5" cy="641.2" rx="82.2" ry="17.8" fill="#ff0800"/><ellipse cx="596.5" cy="640.3" rx="82.2" ry="17.8" fill="#ff0800"/><ellipse cx="596.5" cy="639.4" rx="82.2" ry="17.8" fill="#ff0800"/><ellipse cx="596.5" cy="638.5" rx="82.2" ry="17.8" fill="#ff0800"/><ellipse cx="596.5" cy="637.6" rx="82.2" ry="17.8" fill="#ff0800"/><ellipse cx="596.5" cy="636.7" rx="82.2" ry="17.8" fill="#ff0800"/><ellipse cx="596.5" cy="635.8" rx="82.2" ry="17.8" fill="#ff0800"/><ellipse cx="596.5" cy="634.9" rx="82.2" ry="17.8" fill="#ff0800"/><ellipse cx="596.5" cy="634" rx="82.2" ry="17.8" fill="#ff0800"/><ellipse cx="596.5" cy="633.1" rx="82.2" ry="17.8" fill="#ff0800"/><ellipse cx="596.5" cy="632.2" rx="82.2" ry="17.8" fill="#ff0800"/><ellipse cx="596.5" cy="631.3" rx="82.2" ry="17.8" fill="#ff0800"/><ellipse cx="596.5" cy="630.4" rx="82.2" ry="17.8" fill="#ff0800"/></g>
<g clip-path="url(#cg)"><ellipse cx="597" cy="674" rx="26" ry="20" fill="url(#hl)" opacity="1"/><ellipse cx="568" cy="727" rx="24" ry="24" fill="url(#hl)" opacity="1"/><ellipse cx="628" cy="727" rx="24" ry="24" fill="url(#hl)" opacity="1"/></g>
<path d="M704.4 738L704.1 742.6L703.1 747.2L701.4 751.8L699.1 756.2L696.2 760.6L692.7 764.8L688.6 768.8L683.9 772.7L678.7 776.3L672.9 779.7L666.8 782.9L660.1 785.7L653.1 788.3L645.8 790.6L638.1 792.5L630.2 794.1L622.1 795.4L613.8 796.3L605.4 796.8L597 797L588.6 796.8L580.2 796.3L571.9 795.4L563.8 794.1L555.9 792.5L548.2 790.6L540.9 788.3L533.9 785.7L527.2 782.9L521.1 779.7L515.3 776.3L510.1 772.7L505.4 768.8L501.3 764.8L497.8 760.6L494.9 756.2L492.6 751.8L490.9 747.2L489.9 742.6L489.6 738M597 828L606.6 829.4L616.1 830L625.5 829.7L634.6 828.7L643.4 826.9L651.7 824.3L659.6 820.9L667 816.8L673.7 812L679.7 806.5L685.1 800.5L689.6 793.9L693.3 786.8L696.2 779.3L698.2 771.4L699.4 763.2L699.6 754.8L698.9 746.3L697.3 737.7L694.9 729.1L691.5 720.5L687.4 712.1L682.4 704L676.7 696.1L670.3 688.6L663.3 681.6L655.7 675L647.5 669L638.9 663.6L630 658.9L620.7 654.8L611.3 651.5L601.7 649L592.1 647.2L582.5 646.2L573 646.1L563.8 646.7L554.9 648.1L546.3 650.4L538.2 653.4" fill="none" stroke="#4a3a3a" stroke-opacity="0.6" stroke-width="0.7"/>
<line x1="574" y1="775" x2="562" y2="797" stroke="#9a8a5a" stroke-width="0.6"/><line x1="562" y1="797" x2="556" y2="796" stroke="#8a8a8a" stroke-width="0.8"/><line x1="661" y1="750" x2="699.6" y2="757" stroke="#555" stroke-width="0.9"/><line x1="597" y1="646" x2="597" y2="662" stroke="#333" stroke-width="0.9"/>
<g font-family='"Liberation Sans", sans-serif' font-size="10.5" fill="#141414" stroke="#141414" stroke-width="0.15"><text x="597" y="630" textLength="64" lengthAdjust="spacingAndGlyphs">dB(GainTotal)</text><text x="602.3" y="640">0</text><text x="608.3" y="646" textLength="51" lengthAdjust="spacingAndGlyphs">Theta (deg)</text><text x="598.5" y="648.3" textLength="14" lengthAdjust="spacingAndGlyphs">-5.0</text><text x="502.3" y="772.3" textLength="16" lengthAdjust="spacingAndGlyphs">120</text><text x="565.7" y="799">0</text><text x="570" y="799" textLength="40.6" lengthAdjust="spacingAndGlyphs">Phi (deg)</text><text x="700" y="757.7">-5.0</text><text x="720" y="761" textLength="64" lengthAdjust="spacingAndGlyphs">dB(GainTotal)</text><text x="711.7" y="727.3" textLength="16" lengthAdjust="spacingAndGlyphs">120</text><text x="692.7" y="806" textLength="16" lengthAdjust="spacingAndGlyphs">120</text></g>
<path d="M903 738L903.3 733.4L904.3 728.8L906 724.2L908.3 719.8L911.2 715.4L914.7 711.2L918.8 707.2L923.5 703.3L928.8 699.7L934.5 696.3L940.7 693.1L947.3 690.3L954.3 687.7L961.7 685.4L969.4 683.5L977.3 681.9L985.4 680.6L993.7 679.7L1002.1 679.2L1010.5 679L1018.9 679.2L1027.3 679.7L1035.6 680.6L1043.7 681.9L1051.6 683.5L1059.3 685.4L1066.7 687.7L1073.7 690.3L1080.3 693.1L1086.5 696.3L1092.2 699.7L1097.5 703.3L1102.2 707.2L1106.3 711.2L1109.8 715.4L1112.7 719.8L1115 724.2L1116.7 728.8L1117.7 733.4L1118 738M952 653.4L946.8 655.8L941.9 658.6L937.3 661.7L932.9 665.1L928.9 668.8L925.2 672.8L921.8 677L918.8 681.5L916.2 686.2L913.9 691.1L912 696.2L910.5 701.4L909.5 706.8L908.8 712.4L908.5 718L908.6 723.7L909.2 729.5L910.1 735.3L911.5 741.1L913.2 746.9L915.4 752.7L917.9 758.4L920.8 764.1L924 769.6L927.6 775L931.5 780.2L935.8 785.3L940.3 790.2L945.1 794.9L950.2 799.3L955.5 803.6L961 807.5L966.8 811.2L972.7 814.6L978.8 817.6L985 820.4L991.3 822.8L997.6 824.9L1004.1 826.6L1010.5 828" fill="none" stroke="#8e8e8e" stroke-width="0.7"/><line x1="1030.5" y1="735.8" x2="1122.5" y2="726" stroke="#c4c4c4" stroke-width="0.8"/><line x1="1030.5" y1="752" x2="1104.5" y2="804" stroke="#c4c4c4" stroke-width="0.8"/><line x1="990.5" y1="745" x2="932.5" y2="765" stroke="#c4c4c4" stroke-width="0.8"/>
<g font-family='"Liberation Sans", sans-serif' font-size="10.5" fill="#141414" stroke="#141414" stroke-width="0.15"><text x="933.3" y="693.3" textLength="16" lengthAdjust="spacingAndGlyphs">240</text><text x="1062.7" y="749">-19</text></g>
<g clip-path="url(#chl)"><ellipse cx="1010.5" cy="810.5" rx="66.1" ry="13.8" fill="#ffa000"/><ellipse cx="1010.5" cy="809.6" rx="66.1" ry="13.8" fill="#ffa000"/><ellipse cx="1010.5" cy="808.7" rx="66.1" ry="13.8" fill="#ffa000"/><ellipse cx="1010.5" cy="807.8" rx="66.1" ry="13.8" fill="#ffa000"/><ellipse cx="1010.5" cy="806.9" rx="66.1" ry="13.8" fill="#ffa000"/><ellipse cx="1010.5" cy="806" rx="66.1" ry="13.8" fill="#ffa000"/><ellipse cx="1010.5" cy="805.1" rx="66.1" ry="13.8" fill="#ffa000"/><ellipse cx="1010.5" cy="804.2" rx="66.1" ry="13.8" fill="#ffa000"/><ellipse cx="1010.5" cy="803.3" rx="66.1" ry="13.8" fill="#ffa000"/><ellipse cx="1010.5" cy="802.4" rx="66.1" ry="13.8" fill="#ffa000"/><ellipse cx="1010.5" cy="801.5" rx="66.1" ry="13.8" fill="#fca900"/><ellipse cx="1010.5" cy="800.6" rx="66.1" ry="13.8" fill="#f4c400"/><ellipse cx="1010.5" cy="799.7" rx="66.1" ry="13.8" fill="#edd400"/><ellipse cx="1010.5" cy="798.8" rx="66.1" ry="13.8" fill="#e9db00"/><ellipse cx="1010.5" cy="797.9" rx="66.1" ry="13.8" fill="#e4e200"/><ellipse cx="1010.5" cy="797" rx="66.1" ry="13.8" fill="#dee900"/><ellipse cx="1010.5" cy="796.1" rx="66.1" ry="13.8" fill="#d7eb00"/><ellipse cx="1010.5" cy="795.2" rx="66.1" ry="13.8" fill="#d0ed00"/><ellipse cx="1010.5" cy="794.3" rx="66.1" ry="13.8" fill="#c9f000"/><ellipse cx="1010.5" cy="793.4" rx="66.1" ry="13.8" fill="#c2f200"/><ellipse cx="1010.5" cy="792.5" rx="66.1" ry="13.8" fill="#baf500"/><ellipse cx="1010.5" cy="791.6" rx="66.1" ry="13.8" fill="#b3f700"/><ellipse cx="1010.5" cy="790.7" rx="66.1" ry="13.8" fill="#aef800"/><ellipse cx="1010.5" cy="789.8" rx="66.1" ry="13.8" fill="#aaf900"/><ellipse cx="1010.5" cy="788.9" rx="66.1" ry="13.8" fill="#a7fa00"/><ellipse cx="1010.5" cy="788" rx="66.1" ry="13.8" fill="#a3fb00"/><ellipse cx="1010.5" cy="787.1" rx="66.1" ry="13.8" fill="#a0fc00"/><ellipse cx="1010.5" cy="786.2" rx="66.1" ry="13.8" fill="#9cfc00"/><ellipse cx="1010.5" cy="785.3" rx="66.1" ry="13.8" fill="#98fd00"/><ellipse cx="1010.5" cy="784.4" rx="66.1" ry="13.8" fill="#95fe00"/><ellipse cx="1010.5" cy="783.5" rx="66.1" ry="13.8" fill="#91ff00"/><ellipse cx="1010.5" cy="782.6" rx="66.1" ry="13.8" fill="#8cff00"/><ellipse cx="1010.5" cy="781.7" rx="66.1" ry="13.8" fill="#85ff00"/><ellipse cx="1010.5" cy="780.8" rx="66.1" ry="13.8" fill="#7fff00"/><ellipse cx="1010.5" cy="779.9" rx="66.1" ry="13.8" fill="#78ff00"/><ellipse cx="1010.5" cy="779" rx="66.1" ry="13.8" fill="#72ff00"/><ellipse cx="1010.5" cy="778.1" rx="66.1" ry="13.8" fill="#6bff00"/><ellipse cx="1010.5" cy="777.2" rx="66.1" ry="13.8" fill="#65ff00"/><ellipse cx="1010.5" cy="776.3" rx="66.1" ry="13.8" fill="#5eff00"/><ellipse cx="1010.5" cy="775.4" rx="66.1" ry="13.8" fill="#58ff00"/><ellipse cx="1010.5" cy="774.5" rx="66.1" ry="13.8" fill="#51ff00"/><ellipse cx="1010.5" cy="773.6" rx="66.1" ry="13.8" fill="#4bff00"/><ellipse cx="1010.5" cy="772.7" rx="66.1" ry="13.8" fill="#46ff00"/><ellipse cx="1010.5" cy="771.8" rx="66.1" ry="13.8" fill="#42ff01"/><ellipse cx="1010.5" cy="770.9" rx="66.1" ry="13.8" fill="#3fff02"/><ellipse cx="1010.5" cy="770" rx="66.1" ry="13.8" fill="#3bff03"/><ellipse cx="1010.5" cy="769.1" rx="66.1" ry="13.8" fill="#38ff04"/><ellipse cx="1010.5" cy="768.2" rx="66.1" ry="13.8" fill="#34ff05"/><ellipse cx="1010.5" cy="767.3" rx="66.1" ry="13.8" fill="#30ff06"/><ellipse cx="1010.5" cy="766.4" rx="66.1" ry="13.8" fill="#2dff07"/><ellipse cx="1010.5" cy="765.5" rx="66.1" ry="13.8" fill="#29ff08"/><ellipse cx="1010.5" cy="764.6" rx="66.1" ry="13.8" fill="#27ff09"/><ellipse cx="1010.5" cy="763.7" rx="66.1" ry="13.8" fill="#25ff0b"/><ellipse cx="1010.5" cy="762.8" rx="66.1" ry="13.8" fill="#24ff0c"/><ellipse cx="1010.5" cy="761.9" rx="66.1" ry="13.8" fill="#22ff0e"/><ellipse cx="1010.5" cy="761" rx="66.1" ry="13.8" fill="#21ff0f"/><ellipse cx="1010.5" cy="760.1" rx="66.1" ry="13.8" fill="#1fff11"/><ellipse cx="1010.5" cy="759.2" rx="66.1" ry="13.8" fill="#1dff13"/><ellipse cx="1010.5" cy="758.3" rx="66.1" ry="13.8" fill="#1cff14"/><ellipse cx="1010.5" cy="757.4" rx="66.1" ry="13.8" fill="#1aff16"/><ellipse cx="1010.5" cy="756.5" rx="66.1" ry="13.8" fill="#19ff17"/><ellipse cx="1010.5" cy="755.6" rx="66.1" ry="13.8" fill="#1cff17"/><ellipse cx="1010.5" cy="754.7" rx="66.1" ry="13.8" fill="#21ff15"/><ellipse cx="1010.5" cy="753.8" rx="66.1" ry="13.8" fill="#26ff13"/><ellipse cx="1010.5" cy="752.9" rx="66.1" ry="13.8" fill="#2cff11"/><ellipse cx="1010.5" cy="752" rx="66.1" ry="13.8" fill="#30ff10"/><ellipse cx="1010.5" cy="751.1" rx="66.1" ry="13.8" fill="#30ff10"/><ellipse cx="1010.5" cy="750.2" rx="66.1" ry="13.8" fill="#30ff10"/><ellipse cx="1010.5" cy="749.3" rx="66.1" ry="13.8" fill="#30ff10"/><ellipse cx="1010.5" cy="748.4" rx="66.1" ry="13.8" fill="#30ff10"/><ellipse cx="1010.5" cy="747.5" rx="66.1" ry="13.8" fill="#30ff10"/><ellipse cx="1010.5" cy="746.6" rx="66.1" ry="13.8" fill="#30ff10"/><ellipse cx="1010.5" cy="745.7" rx="66.1" ry="13.8" fill="#30ff10"/><ellipse cx="1010.5" cy="744.8" rx="66.1" ry="13.8" fill="#30ff10"/><ellipse cx="1010.5" cy="743.9" rx="66.1" ry="13.8" fill="#30ff10"/><ellipse cx="1010.5" cy="743" rx="66.1" ry="13.8" fill="#30ff10"/><ellipse cx="1010.5" cy="742.1" rx="66.1" ry="13.8" fill="#30ff10"/><ellipse cx="1010.5" cy="741.2" rx="66.1" ry="13.8" fill="#30ff10"/><ellipse cx="1010.5" cy="740.3" rx="66.1" ry="13.8" fill="#30ff10"/><ellipse cx="1010.5" cy="739.4" rx="66.1" ry="13.8" fill="#30ff10"/><ellipse cx="1010.5" cy="738.5" rx="66.1" ry="13.8" fill="#30ff10"/><ellipse cx="1010.5" cy="737.6" rx="66.1" ry="13.8" fill="#30ff10"/><ellipse cx="1010.5" cy="736.7" rx="66.1" ry="13.8" fill="#30ff10"/><ellipse cx="1010.5" cy="735.8" rx="66.1" ry="13.8" fill="#30ff10"/><ellipse cx="1010.5" cy="734.9" rx="66.1" ry="13.8" fill="#30ff10"/><ellipse cx="1010.5" cy="734" rx="66.1" ry="13.8" fill="#30ff10"/><ellipse cx="1010.5" cy="733.1" rx="66.1" ry="13.8" fill="#30ff10"/><ellipse cx="1010.5" cy="732.2" rx="66.1" ry="13.8" fill="#30ff10"/><ellipse cx="1010.5" cy="731.3" rx="66.1" ry="13.8" fill="#30ff10"/><ellipse cx="1010.5" cy="730.4" rx="66.1" ry="13.8" fill="#30ff10"/><ellipse cx="1010.5" cy="729.5" rx="66.1" ry="13.8" fill="#30ff10"/><ellipse cx="1010.5" cy="728.6" rx="66.1" ry="13.8" fill="#30ff10"/><ellipse cx="1010.5" cy="727.7" rx="66.1" ry="13.8" fill="#30ff10"/><ellipse cx="1010.5" cy="726.8" rx="66.1" ry="13.8" fill="#30ff10"/><ellipse cx="1010.5" cy="725.9" rx="66.1" ry="13.8" fill="#30ff10"/><ellipse cx="1010.5" cy="725" rx="66.1" ry="13.8" fill="#30ff10"/><ellipse cx="1010.5" cy="724.1" rx="66.1" ry="13.8" fill="#30ff10"/><ellipse cx="1010.5" cy="723.2" rx="66.1" ry="13.8" fill="#30ff10"/><ellipse cx="1010.5" cy="722.3" rx="66.1" ry="13.8" fill="#30ff10"/><ellipse cx="1010.5" cy="721.4" rx="66.1" ry="13.8" fill="#30ff10"/><ellipse cx="1010.5" cy="720.5" rx="66.1" ry="13.8" fill="#30ff10"/><ellipse cx="1009" cy="769" rx="34" ry="13" fill="url(#cy)"/></g>
<g clip-path="url(#chu)"><ellipse cx="1008.7" cy="762.9" rx="70.5" ry="17.8" fill="#30ff00"/><ellipse cx="1008.7" cy="762" rx="70.5" ry="17.8" fill="#30ff00"/><ellipse cx="1008.7" cy="761.1" rx="70.5" ry="17.8" fill="#30ff00"/><ellipse cx="1008.7" cy="760.2" rx="70.5" ry="17.8" fill="#30ff00"/><ellipse cx="1008.7" cy="759.3" rx="70.5" ry="17.8" fill="#30ff00"/><ellipse cx="1008.7" cy="758.4" rx="70.5" ry="17.8" fill="#30ff00"/><ellipse cx="1008.7" cy="757.5" rx="70.5" ry="17.8" fill="#30ff00"/><ellipse cx="1008.7" cy="756.6" rx="70.5" ry="17.8" fill="#30ff00"/><ellipse cx="1008.7" cy="755.7" rx="70.5" ry="17.8" fill="#30ff00"/><ellipse cx="1008.7" cy="754.8" rx="70.5" ry="17.8" fill="#30ff00"/><ellipse cx="1008.7" cy="753.9" rx="70.5" ry="17.8" fill="#30ff00"/><ellipse cx="1008.7" cy="753" rx="70.5" ry="17.8" fill="#30ff00"/><ellipse cx="1008.7" cy="752.1" rx="70.5" ry="17.8" fill="#30ff00"/><ellipse cx="1008.7" cy="751.2" rx="70.5" ry="17.8" fill="#30ff00"/><ellipse cx="1008.7" cy="750.3" rx="70.5" ry="17.8" fill="#30ff00"/><ellipse cx="1008.7" cy="749.4" rx="70.5" ry="17.8" fill="#30ff00"/><ellipse cx="1008.7" cy="748.5" rx="70.5" ry="17.8" fill="#3cff00"/><ellipse cx="1008.7" cy="747.6" rx="70.5" ry="17.8" fill="#4aff00"/><ellipse cx="1008.7" cy="746.7" rx="70.5" ry="17.8" fill="#58ff00"/><ellipse cx="1008.7" cy="745.8" rx="70.5" ry="17.8" fill="#67ff00"/><ellipse cx="1008.7" cy="744.9" rx="70.5" ry="17.8" fill="#75ff00"/><ellipse cx="1008.7" cy="744" rx="70.5" ry="17.8" fill="#84ff00"/><ellipse cx="1008.7" cy="743.1" rx="70.5" ry="17.8" fill="#92ff00"/><ellipse cx="1008.7" cy="742.2" rx="70.5" ry="17.8" fill="#a0ff00"/><ellipse cx="1008.7" cy="741.3" rx="70.5" ry="17.8" fill="#afff00"/><ellipse cx="1008.7" cy="740.4" rx="70.5" ry="17.8" fill="#bdff00"/><ellipse cx="1008.7" cy="739.5" rx="70.5" ry="17.8" fill="#ccff00"/><ellipse cx="1008.7" cy="738.6" rx="70.5" ry="17.8" fill="#d4ff00"/><ellipse cx="1008.7" cy="737.7" rx="70.5" ry="17.8" fill="#daff00"/><ellipse cx="1008.7" cy="736.8" rx="70.5" ry="17.8" fill="#e0ff00"/><ellipse cx="1008.7" cy="735.9" rx="70.5" ry="17.8" fill="#e6ff00"/><ellipse cx="1008.7" cy="735" rx="70.5" ry="17.8" fill="#ecff00"/><ellipse cx="1008.7" cy="734.1" rx="70.5" ry="17.8" fill="#f2ff00"/><ellipse cx="1008.7" cy="733.2" rx="70.5" ry="17.8" fill="#f8ff00"/><ellipse cx="1008.7" cy="732.3" rx="70.5" ry="17.8" fill="#ffff00"/><ellipse cx="1008.7" cy="731.4" rx="70.5" ry="17.8" fill="#fffd00"/><ellipse cx="1008.7" cy="730.5" rx="70.5" ry="17.8" fill="#fffa00"/><ellipse cx="1008.7" cy="729.6" rx="70.5" ry="17.8" fill="#fff700"/><ellipse cx="1008.7" cy="728.7" rx="70.5" ry="17.8" fill="#fff400"/><ellipse cx="1008.7" cy="727.8" rx="70.5" ry="17.8" fill="#fff200"/><ellipse cx="1008.7" cy="726.9" rx="70.5" ry="17.8" fill="#ffef00"/><ellipse cx="1008.7" cy="726" rx="70.5" ry="17.8" fill="#ffea00"/><ellipse cx="1008.7" cy="725.1" rx="70.5" ry="17.8" fill="#ffe600"/><ellipse cx="1008.7" cy="724.2" rx="70.5" ry="17.8" fill="#ffe200"/><ellipse cx="1008.7" cy="723.3" rx="70.5" ry="17.8" fill="#ffde00"/><ellipse cx="1008.7" cy="722.4" rx="70.5" ry="17.8" fill="#ffda00"/><ellipse cx="1008.7" cy="721.5" rx="70.5" ry="17.8" fill="#ffd600"/><ellipse cx="1008.7" cy="720.6" rx="70.5" ry="17.8" fill="#ffd200"/><ellipse cx="1008.7" cy="719.7" rx="70.5" ry="17.8" fill="#ffce00"/><ellipse cx="1008.7" cy="718.8" rx="70.5" ry="17.8" fill="#ffca00"/><ellipse cx="1008.7" cy="717.9" rx="70.5" ry="17.8" fill="#ffc700"/><ellipse cx="1008.7" cy="717" rx="70.5" ry="17.8" fill="#ffc300"/><ellipse cx="1008.7" cy="716.1" rx="70.5" ry="17.8" fill="#ffbf00"/><ellipse cx="1008.7" cy="715.2" rx="70.5" ry="17.8" fill="#ffbc00"/><ellipse cx="1008.7" cy="714.3" rx="70.5" ry="17.8" fill="#ffb800"/><ellipse cx="1008.7" cy="713.4" rx="70.5" ry="17.8" fill="#ffb500"/><ellipse cx="1008.7" cy="712.5" rx="70.5" ry="17.8" fill="#ffb100"/><ellipse cx="1008.7" cy="711.6" rx="70.5" ry="17.8" fill="#ffae00"/><ellipse cx="1008.7" cy="710.7" rx="70.5" ry="17.8" fill="#ffaa00"/><ellipse cx="1008.7" cy="709.8" rx="70.5" ry="17.8" fill="#ffa700"/><ellipse cx="1008.7" cy="708.9" rx="70.5" ry="17.8" fill="#ffa400"/><ellipse cx="1008.7" cy="708" rx="70.5" ry="17.8" fill="#ffa100"/><ellipse cx="1008.7" cy="707.1" rx="70.5" ry="17.8" fill="#ff9e00"/><ellipse cx="1008.7" cy="706.2" rx="70.5" ry="17.8" fill="#ff9a00"/><ellipse cx="1008.7" cy="705.3" rx="70.5" ry="17.8" fill="#ff9700"/><ellipse cx="1008.7" cy="704.4" rx="70.5" ry="17.8" fill="#ff9400"/><ellipse cx="1008.7" cy="703.5" rx="70.5" ry="17.8" fill="#ff9100"/><ellipse cx="1008.7" cy="702.6" rx="70.5" ry="17.8" fill="#ff8d00"/><ellipse cx="1008.7" cy="701.7" rx="70.5" ry="17.8" fill="#ff8b00"/><ellipse cx="1008.7" cy="700.8" rx="70.5" ry="17.8" fill="#ff8800"/><ellipse cx="1008.7" cy="699.9" rx="70.5" ry="17.8" fill="#ff8500"/><ellipse cx="1008.7" cy="699" rx="70.5" ry="17.8" fill="#ff8300"/><ellipse cx="1008.7" cy="698.1" rx="70.5" ry="17.8" fill="#ff8000"/><ellipse cx="1008.7" cy="697.2" rx="70.5" ry="17.8" fill="#ff7e00"/><ellipse cx="1008.7" cy="696.3" rx="70.5" ry="17.8" fill="#ff7b00"/><ellipse cx="1008.7" cy="695.4" rx="70.5" ry="17.8" fill="#ff7900"/><ellipse cx="1008.7" cy="694.5" rx="70.5" ry="17.8" fill="#ff7600"/><ellipse cx="1008.7" cy="693.6" rx="70.5" ry="17.8" fill="#ff7400"/><ellipse cx="1008.7" cy="692.7" rx="70.5" ry="17.8" fill="#ff7100"/><ellipse cx="1008.7" cy="691.8" rx="70.5" ry="17.8" fill="#ff6f00"/><ellipse cx="1008.7" cy="690.9" rx="70.5" ry="17.8" fill="#ff6c00"/><ellipse cx="1008.7" cy="690" rx="70.5" ry="17.8" fill="#ff6a00"/><ellipse cx="1008.7" cy="689.1" rx="70.5" ry="17.8" fill="#ff6700"/><ellipse cx="1008.7" cy="688.2" rx="70.5" ry="17.8" fill="#ff6500"/><ellipse cx="1008.7" cy="687.3" rx="70.5" ry="17.8" fill="#ff6200"/><ellipse cx="1008.7" cy="686.4" rx="70.5" ry="17.8" fill="#ff6000"/><ellipse cx="1008.7" cy="685.5" rx="70.5" ry="17.8" fill="#ff5d00"/><ellipse cx="1008.7" cy="684.6" rx="70.5" ry="17.8" fill="#ff5b00"/><ellipse cx="1008.7" cy="683.7" rx="70.5" ry="17.8" fill="#ff5800"/><ellipse cx="1008.7" cy="682.8" rx="70.5" ry="17.8" fill="#ff5600"/><ellipse cx="1008.7" cy="681.9" rx="70.5" ry="17.8" fill="#ff5300"/><ellipse cx="1008.7" cy="681" rx="70.5" ry="17.8" fill="#ff5100"/><ellipse cx="1008.7" cy="680.1" rx="70.5" ry="17.8" fill="#ff4e00"/><ellipse cx="1008.7" cy="679.2" rx="70.5" ry="17.8" fill="#ff4c00"/><ellipse cx="1008.7" cy="678.3" rx="70.5" ry="17.8" fill="#ff4900"/><ellipse cx="1008.7" cy="677.4" rx="70.5" ry="17.8" fill="#ff4600"/><ellipse cx="1008.7" cy="676.5" rx="70.5" ry="17.8" fill="#ff4400"/><ellipse cx="1008.7" cy="675.6" rx="70.5" ry="17.8" fill="#ff4100"/><ellipse cx="1008.7" cy="674.7" rx="70.5" ry="17.8" fill="#ff3f00"/><ellipse cx="1008.7" cy="673.8" rx="70.5" ry="17.8" fill="#ff3c00"/><ellipse cx="1008.7" cy="672.9" rx="70.5" ry="17.8" fill="#ff3a00"/><ellipse cx="1008.7" cy="672" rx="70.5" ry="17.8" fill="#ff3800"/><ellipse cx="1008.7" cy="671.1" rx="70.5" ry="17.8" fill="#ff3600"/><ellipse cx="1008.7" cy="670.2" rx="70.5" ry="17.8" fill="#ff3400"/><ellipse cx="1008.7" cy="669.3" rx="70.5" ry="17.8" fill="#ff3200"/><ellipse cx="1008.7" cy="668.4" rx="70.5" ry="17.8" fill="#ff3000"/><ellipse cx="1008.7" cy="667.5" rx="70.5" ry="17.8" fill="#ff2f00"/><ellipse cx="1008.7" cy="666.6" rx="70.5" ry="17.8" fill="#ff2d00"/><ellipse cx="1008.7" cy="665.7" rx="70.5" ry="17.8" fill="#ff2b00"/><ellipse cx="1008.7" cy="664.8" rx="70.5" ry="17.8" fill="#ff2900"/><ellipse cx="1008.7" cy="663.9" rx="70.5" ry="17.8" fill="#ff2700"/><ellipse cx="1008.7" cy="663" rx="70.5" ry="17.8" fill="#ff2600"/><ellipse cx="1008.7" cy="662.1" rx="70.5" ry="17.8" fill="#ff2400"/><ellipse cx="1008.7" cy="661.2" rx="70.5" ry="17.8" fill="#ff2200"/><ellipse cx="1008.7" cy="660.3" rx="70.5" ry="17.8" fill="#ff2000"/><ellipse cx="1008.7" cy="659.4" rx="70.5" ry="17.8" fill="#ff1e00"/><ellipse cx="1008.7" cy="658.5" rx="70.5" ry="17.8" fill="#ff1d00"/><ellipse cx="1008.7" cy="657.6" rx="70.5" ry="17.8" fill="#ff1b00"/><ellipse cx="1008.7" cy="656.7" rx="70.5" ry="17.8" fill="#ff1900"/><ellipse cx="1008.7" cy="655.8" rx="70.5" ry="17.8" fill="#ff1700"/><ellipse cx="1008.7" cy="654.9" rx="70.5" ry="17.8" fill="#ff1500"/><ellipse cx="1008.7" cy="654" rx="70.5" ry="17.8" fill="#ff1400"/><ellipse cx="1008.7" cy="653.1" rx="70.5" ry="17.8" fill="#ff1200"/><ellipse cx="1008.7" cy="652.2" rx="70.5" ry="17.8" fill="#ff1000"/><ellipse cx="1008.7" cy="651.3" rx="70.5" ry="17.8" fill="#ff0f00"/><ellipse cx="1008.7" cy="650.4" rx="70.5" ry="17.8" fill="#ff0f00"/><ellipse cx="1008.7" cy="649.5" rx="70.5" ry="17.8" fill="#ff0e00"/><ellipse cx="1008.7" cy="648.6" rx="70.5" ry="17.8" fill="#ff0e00"/><ellipse cx="1008.7" cy="647.7" rx="70.5" ry="17.8" fill="#ff0d00"/><ellipse cx="1008.7" cy="646.8" rx="70.5" ry="17.8" fill="#ff0c00"/><ellipse cx="1008.7" cy="645.9" rx="70.5" ry="17.8" fill="#ff0c00"/><ellipse cx="1008.7" cy="645" rx="70.5" ry="17.8" fill="#ff0b00"/><ellipse cx="1008.7" cy="644.1" rx="70.5" ry="17.8" fill="#ff0b00"/><ellipse cx="1008.7" cy="643.2" rx="70.5" ry="17.8" fill="#ff0a00"/><ellipse cx="1008.7" cy="642.3" rx="70.5" ry="17.8" fill="#ff0900"/><ellipse cx="1008.7" cy="641.4" rx="70.5" ry="17.8" fill="#ff0900"/><ellipse cx="1008.7" cy="640.5" rx="70.5" ry="17.8" fill="#ff0800"/><ellipse cx="1008.7" cy="639.6" rx="70.5" ry="17.8" fill="#ff0800"/><ellipse cx="1008.7" cy="638.7" rx="70.5" ry="17.8" fill="#ff0800"/><ellipse cx="1008.7" cy="637.8" rx="70.5" ry="17.8" fill="#ff0800"/><ellipse cx="1008.7" cy="636.9" rx="70.5" ry="17.8" fill="#ff0800"/><ellipse cx="1008.7" cy="636" rx="70.5" ry="17.8" fill="#ff0800"/><ellipse cx="1008.7" cy="635.1" rx="70.5" ry="17.8" fill="#ff0800"/><ellipse cx="1008.7" cy="634.2" rx="70.5" ry="17.8" fill="#ff0800"/><ellipse cx="1008.7" cy="633.3" rx="70.5" ry="17.8" fill="#ff0800"/><ellipse cx="1008.7" cy="632.4" rx="70.5" ry="17.8" fill="#ff0800"/><ellipse cx="1008.7" cy="631.5" rx="70.5" ry="17.8" fill="#ff0800"/><ellipse cx="1008.7" cy="630.6" rx="70.5" ry="17.8" fill="#ff0800"/></g>
<g clip-path="url(#ch)"><ellipse cx="1010" cy="672" rx="24" ry="19" fill="url(#hl)" opacity="1"/><ellipse cx="984" cy="720" rx="22" ry="22" fill="url(#hl)" opacity="1"/><ellipse cx="1036" cy="720" rx="22" ry="22" fill="url(#hl)" opacity="1"/></g>
<path d="M1118 738L1117.7 742.6L1116.7 747.2L1115 751.8L1112.7 756.2L1109.8 760.6L1106.3 764.8L1102.2 768.8L1097.5 772.7L1092.2 776.3L1086.5 779.7L1080.3 782.9L1073.7 785.7L1066.7 788.3L1059.3 790.6L1051.6 792.5L1043.7 794.1L1035.6 795.4L1027.3 796.3L1018.9 796.8L1010.5 797L1002.1 796.8L993.7 796.3L985.4 795.4L977.3 794.1L969.4 792.5L961.7 790.6L954.3 788.3L947.3 785.7L940.7 782.9L934.5 779.7L928.8 776.3L923.5 772.7L918.8 768.8L914.7 764.8L911.2 760.6L908.3 756.2L906 751.8L904.3 747.2L903.3 742.6L903 738M1010.5 828L1020.1 829.4L1029.5 830L1038.8 829.7L1047.9 828.7L1056.6 826.9L1064.9 824.3L1072.8 820.9L1080.1 816.8L1086.7 812L1092.8 806.5L1098 800.5L1102.6 793.9L1106.3 786.8L1109.1 779.3L1111.1 771.4L1112.3 763.2L1112.5 754.8L1111.8 746.3L1110.2 737.7L1107.8 729.1L1104.5 720.5L1100.4 712.1L1095.4 704L1089.8 696.1L1083.4 688.6L1076.4 681.6L1068.8 675L1060.7 669L1052.2 663.6L1043.3 658.9L1034.1 654.8L1024.7 651.5L1015.2 649L1005.6 647.2L996.1 646.2L986.7 646.1L977.5 646.7L968.6 648.1L960.1 650.4L952 653.4" fill="none" stroke="#4a3a3a" stroke-opacity="0.6" stroke-width="0.7"/>
<line x1="994" y1="767" x2="976" y2="797" stroke="#6a7a3a" stroke-width="0.8"/><line x1="976" y1="797" x2="969.5" y2="796" stroke="#8a8a8a" stroke-width="0.8"/><line x1="1065.5" y1="748" x2="1112.5" y2="757" stroke="#555" stroke-width="0.9"/><line x1="1010.5" y1="646" x2="1010.5" y2="660" stroke="#333" stroke-width="0.9"/>
<g font-family='"Liberation Sans", sans-serif' font-size="10.5" fill="#141414" stroke="#141414" stroke-width="0.15"><text x="1010" y="630" textLength="64" lengthAdjust="spacingAndGlyphs">dB(GainTotal)</text><text x="1015.7" y="640">0</text><text x="1020.7" y="646" textLength="51" lengthAdjust="spacingAndGlyphs">Theta (deg)</text><text x="1014" y="648.3" textLength="10.5" lengthAdjust="spacingAndGlyphs">-10</text><text x="915.7" y="772.3" textLength="16" lengthAdjust="spacingAndGlyphs">120</text><text x="979.3" y="799">0</text><text x="983.3" y="799" textLength="40.6" lengthAdjust="spacingAndGlyphs">Phi (deg)</text><text x="1113.3" y="757.7">-10</text><text x="1133.3" y="761" textLength="64" lengthAdjust="spacingAndGlyphs">dB(GainTotal)</text><text x="1124.3" y="727.3" textLength="16" lengthAdjust="spacingAndGlyphs">120</text><text x="1106" y="806" textLength="16" lengthAdjust="spacingAndGlyphs">120</text></g>
<path d="M79.5 483L79.8 478.8L80.8 474.7L82.4 470.6L84.6 466.6L87.5 462.7L90.9 458.9L94.9 455.3L99.5 451.8L104.5 448.6L110.1 445.5L116.1 442.7L122.6 440.1L129.4 437.8L136.6 435.8L144 434L151.7 432.6L159.6 431.5L167.7 430.7L175.8 430.2L184 430L192.2 430.2L200.3 430.7L208.4 431.5L216.3 432.6L224 434L231.4 435.8L238.6 437.8L245.4 440.1L251.9 442.7L257.9 445.5L263.5 448.6L268.5 451.8L273.1 455.3L277.1 458.9L280.5 462.7L283.4 466.6L285.6 470.6L287.2 474.7L288.2 478.8L288.5 483M123.7 400.7L118.1 404.1L112.9 408.1L108.1 412.4L103.7 417.1L99.8 422.2L96.3 427.6L93.3 433.4L90.8 439.4L88.8 445.6L87.3 452L86.4 458.6L86 465.4L86.2 472.2L86.8 479.1L88.1 486.1L89.8 493L92.1 499.8L94.8 506.6L98.1 513.2L101.8 519.7L106 526L110.6 532L115.6 537.7L121 543.2L126.7 548.3L132.8 553.1L139.1 557.5L145.7 561.4L152.5 565L159.5 568.1L166.6 570.7L173.8 572.8L181 574.5L188.3 575.6L195.5 576.2L202.7 576.4L209.8 576L216.7 575.1L223.5 573.7L230 571.7" fill="none" stroke="#8e8e8e" stroke-width="0.7"/><line x1="204" y1="480" x2="290.7" y2="469.3" stroke="#c4c4c4" stroke-width="0.8"/><line x1="204" y1="496.5" x2="273.3" y2="543.3" stroke="#c4c4c4" stroke-width="0.8"/><line x1="164" y1="489" x2="108.7" y2="506" stroke="#c4c4c4" stroke-width="0.8"/>
<g font-family='"Liberation Sans", sans-serif' font-size="10" fill="#141414" stroke="#141414" stroke-width="0.15"><text x="109.3" y="436.7" textLength="15.3" lengthAdjust="spacingAndGlyphs">240</text><text x="243.6" y="490.2" textLength="7.4" lengthAdjust="spacingAndGlyphs">.5</text></g>
<path d="M176.7 382.7C181.1 382.7 185.6 383 190 384C194.4 385 199.4 386.6 203.3 388.7C207.2 390.8 209.9 393.6 213.3 396.7C216.8 399.8 221.1 403.5 224 407.3C226.9 411.1 228.7 414.9 230.7 419.3C232.7 423.8 234.6 428.9 236 434C237.4 439.1 238.4 445.1 239.3 450C240.2 454.9 240.7 458.3 241.3 463.3C241.9 468.3 242.2 475 242.7 480C243.1 485 243.8 487.8 244 493.3C244.2 498.9 244.2 507.1 244 513.3C243.8 519.5 243.4 525.8 242.7 530.7C242 535.6 241.3 538.7 240 542.7C238.7 546.7 236.9 551.2 234.7 554.7C232.5 558.2 229.6 561.2 226.7 564C223.8 566.8 220.6 569.2 217.3 571.3C214 573.4 210.1 575.4 206.7 576.7C203.3 578 200.6 578.9 196.7 579.3C192.8 579.7 187.8 580 183.3 579.3C178.9 578.6 174.4 577.2 170 575.3C165.6 573.4 160.9 571.2 156.7 568C152.5 564.8 148 560 144.7 556C141.4 552 139.1 548.9 136.7 544C134.2 539.1 131.8 532.2 130 526.7C128.2 521.2 127.1 515.6 126 510.7C124.9 505.8 124.1 502.4 123.3 497.3C122.5 492.2 121.7 485.7 121.3 480C120.9 474.3 120.7 469.2 120.7 463.3C120.7 457.4 120.9 450.5 121.3 444.7C121.7 438.9 122.5 432.7 123.3 428.7C124.1 424.7 124.7 423.8 126 420.7C127.3 417.6 128.9 413.8 131.3 410C133.8 406.2 137.6 401.3 140.7 398C143.8 394.7 146.2 392.3 150 390C153.8 387.7 158.9 385.2 163.3 384C167.8 382.8 172.2 382.7 176.7 382.7Z" fill="#ff0000"/><g clip-path="url(#cc)"><ellipse cx="142" cy="546" rx="34" ry="26" fill="url(#tq)"/><g transform="rotate(-12 141 489)"><ellipse cx="139.1" cy="489" rx="30.1" ry="68.7" fill="#ff0d00" fill-opacity="0.36"/><ellipse cx="139.1" cy="489" rx="29.3" ry="67.4" fill="#ff1900" fill-opacity="0.46"/><ellipse cx="139.2" cy="489" rx="28.4" ry="66.1" fill="#ff2600" fill-opacity="0.57"/><ellipse cx="139.3" cy="489" rx="27.6" ry="64.9" fill="#ff3200" fill-opacity="0.68"/><ellipse cx="139.4" cy="489" rx="26.7" ry="63.6" fill="#ff3f00" fill-opacity="0.79"/><ellipse cx="139.4" cy="489" rx="25.9" ry="62.3" fill="#ff4b00" fill-opacity="0.89"/><ellipse cx="139.5" cy="489" rx="25" ry="61" fill="#ff5800"/><ellipse cx="139.5" cy="489" rx="24.3" ry="59.9" fill="#ff6300"/><ellipse cx="139.5" cy="489" rx="23.6" ry="58.7" fill="#ff6f00"/><ellipse cx="139.5" cy="489" rx="22.9" ry="57.6" fill="#ff7a00"/><ellipse cx="139.5" cy="489" rx="22.1" ry="56.4" fill="#ff8600"/><ellipse cx="139.5" cy="489" rx="21.4" ry="55.3" fill="#ff9100"/><ellipse cx="139.5" cy="489" rx="20.7" ry="54.1" fill="#ff9d00"/><ellipse cx="139.5" cy="489" rx="20" ry="53" fill="#ffa800"/><ellipse cx="139.5" cy="489" rx="19.5" ry="52.1" fill="#ffb200"/><ellipse cx="139.5" cy="489" rx="19" ry="51.3" fill="#ffbd00"/><ellipse cx="139.5" cy="489" rx="18.5" ry="50.4" fill="#ffc700"/><ellipse cx="139.5" cy="489" rx="18" ry="49.6" fill="#ffd100"/><ellipse cx="139.5" cy="489" rx="17.5" ry="48.7" fill="#ffdb00"/><ellipse cx="139.5" cy="489" rx="17" ry="47.9" fill="#ffe600"/><ellipse cx="139.5" cy="489" rx="16.5" ry="47" fill="#fff000"/><ellipse cx="139.6" cy="489" rx="16.2" ry="46.4" fill="#f6f100"/><ellipse cx="139.8" cy="489" rx="15.9" ry="45.9" fill="#edf200"/><ellipse cx="139.9" cy="489" rx="15.6" ry="45.3" fill="#e4f300"/><ellipse cx="140.1" cy="489" rx="15.4" ry="44.7" fill="#dbf500"/><ellipse cx="140.2" cy="489" rx="15.1" ry="44.1" fill="#d2f600"/><ellipse cx="140.4" cy="489" rx="14.8" ry="43.6" fill="#c9f700"/><ellipse cx="140.5" cy="489" rx="14.5" ry="43" fill="#c0f800"/><ellipse cx="140.6" cy="489" rx="14.2" ry="42.3" fill="#b9f700"/><ellipse cx="140.8" cy="489" rx="13.9" ry="41.6" fill="#b2f600"/><ellipse cx="140.9" cy="489" rx="13.6" ry="40.9" fill="#abf500"/><ellipse cx="141.1" cy="489" rx="13.4" ry="40.1" fill="#a5f300"/><ellipse cx="141.2" cy="489" rx="13.1" ry="39.4" fill="#9ef200"/><ellipse cx="141.4" cy="489" rx="12.8" ry="38.7" fill="#97f100"/><ellipse cx="141.5" cy="489" rx="12.5" ry="38" fill="#90f000"/><ellipse cx="141.8" cy="489" rx="12" ry="36.6" fill="#83f100"/><ellipse cx="142.1" cy="489" rx="11.5" ry="35.1" fill="#77f100"/><ellipse cx="142.4" cy="489" rx="11" ry="33.7" fill="#6af200"/><ellipse cx="142.6" cy="489" rx="10.5" ry="32.3" fill="#5ef200"/><ellipse cx="142.9" cy="489" rx="10" ry="30.9" fill="#51f300"/><ellipse cx="143.2" cy="489" rx="9.5" ry="29.4" fill="#45f300"/><ellipse cx="143.5" cy="489" rx="9" ry="28" fill="#38f400"/><ellipse cx="143.8" cy="488.9" rx="8.5" ry="26.6" fill="#30f603"/><ellipse cx="144.1" cy="488.9" rx="8" ry="25.1" fill="#28f707"/><ellipse cx="144.4" cy="488.8" rx="7.5" ry="23.7" fill="#20f90a"/><ellipse cx="144.6" cy="488.7" rx="7" ry="22.3" fill="#18fa0e"/><ellipse cx="144.9" cy="488.6" rx="6.5" ry="20.9" fill="#10fc11"/><ellipse cx="145.2" cy="488.6" rx="6" ry="19.4" fill="#08fd15"/><ellipse cx="145.5" cy="488.5" rx="5.5" ry="18" fill="#00ff18"/><ellipse cx="145.8" cy="488.4" rx="5" ry="16.6" fill="#00ff27"/><ellipse cx="146.1" cy="488.4" rx="4.5" ry="15.1" fill="#00ff36"/><ellipse cx="146.4" cy="488.3" rx="4" ry="13.7" fill="#00ff45"/><ellipse cx="146.6" cy="488.2" rx="3.5" ry="12.3" fill="#00ff53"/><ellipse cx="146.9" cy="488.1" rx="3" ry="10.9" fill="#00ff62"/><ellipse cx="147.2" cy="488.1" rx="2.5" ry="9.4" fill="#00ff71"/><ellipse cx="147.5" cy="488" rx="2" ry="8" fill="#00ff80"/></g><path d="M127 418C122 435 120 455 121 478C122 505 128 530 140 552" fill="none" stroke="#ff8a00" stroke-width="5" stroke-opacity="0.85" filter="url(#bl)"/><rect x="225" y="380" width="25" height="200" fill="url(#tr)"/><rect x="120" y="535" width="130" height="50" fill="url(#tb)"/><ellipse cx="186" cy="411" rx="24" ry="24" fill="url(#hl)" opacity="1"/><ellipse cx="178" cy="484" rx="16" ry="34" fill="url(#hl)" opacity="0.7"/><ellipse cx="216" cy="486" rx="17" ry="36" fill="url(#hl)" opacity="0.9"/><ellipse cx="178" cy="573" rx="20" ry="7" fill="url(#hl)" opacity="0.6"/></g>
<path d="M288.5 483L288.2 487.2L287.2 491.3L285.6 495.4L283.4 499.4L280.5 503.3L277.1 507.1L273.1 510.7L268.5 514.2L263.5 517.4L257.9 520.5L251.9 523.3L245.4 525.9L238.6 528.2L231.4 530.2L224 532L216.3 533.4L208.4 534.5L200.3 535.3L192.2 535.8L184 536L175.8 535.8L167.7 535.3L159.6 534.5L151.7 533.4L144 532L136.6 530.2L129.4 528.2L122.6 525.9L116.1 523.3L110.1 520.5L104.5 517.4L99.5 514.2L94.9 510.7L90.9 507.1L87.5 503.3L84.6 499.4L82.4 495.4L80.8 491.3L79.8 487.2L79.5 483M230 571.7L237 569L243.7 565.7L249.9 561.9L255.7 557.4L261 552.5L265.7 547.1L269.9 541.3L273.5 535L276.5 528.4L278.9 521.5L280.6 514.3L281.6 507L282 499.4L281.7 491.7L280.7 484L279.1 476.3L276.8 468.6L273.9 461L270.3 453.5L266.2 446.3L261.5 439.3L256.3 432.6L250.5 426.3L244.3 420.4L237.7 414.8L230.8 409.8L223.5 405.2L215.9 401.2L208.1 397.8L200.2 394.9L192.1 392.6L184 391L175.9 390L167.8 389.6L159.9 389.9L152.1 390.8L144.5 392.3L137.2 394.5L130.3 397.3L123.7 400.7" fill="none" stroke="#4a3a3a" stroke-opacity="0.6" stroke-width="0.7"/>
<line x1="244" y1="492" x2="282" y2="499" stroke="#555" stroke-width="0.9"/><line x1="160" y1="518" x2="153" y2="535" stroke="#8a8a6a" stroke-width="0.8"/><line x1="153" y1="535" x2="147" y2="534" stroke="#8a8a8a" stroke-width="0.8"/>
<g font-family='"Liberation Sans", sans-serif' font-size="10" fill="#141414" stroke="#141414" stroke-width="0.15"><text x="184.3" y="376" textLength="62.4" lengthAdjust="spacingAndGlyphs">dB(GainTotal)</text><text x="189.3" y="386">0</text><text x="193.3" y="390.7" textLength="51" lengthAdjust="spacingAndGlyphs">Theta (deg)</text><text x="184.5" y="393.3" textLength="12" lengthAdjust="spacingAndGlyphs">2.0</text><text x="92.7" y="512.7" textLength="15.3" lengthAdjust="spacingAndGlyphs">120</text><text x="154.3" y="538.3">0</text><text x="158.3" y="538.3" textLength="39.3" lengthAdjust="spacingAndGlyphs">Phi (deg)</text><text x="283.3" y="498.6" textLength="12.6" lengthAdjust="spacingAndGlyphs">2.0</text><text x="302.3" y="502.4" textLength="62.4" lengthAdjust="spacingAndGlyphs">dB(GainTotal)</text><text x="294.3" y="469.2" textLength="15.3" lengthAdjust="spacingAndGlyphs">120</text><text x="276.7" y="544.6" textLength="15.3" lengthAdjust="spacingAndGlyphs">120</text></g>
</svg></body></html>
